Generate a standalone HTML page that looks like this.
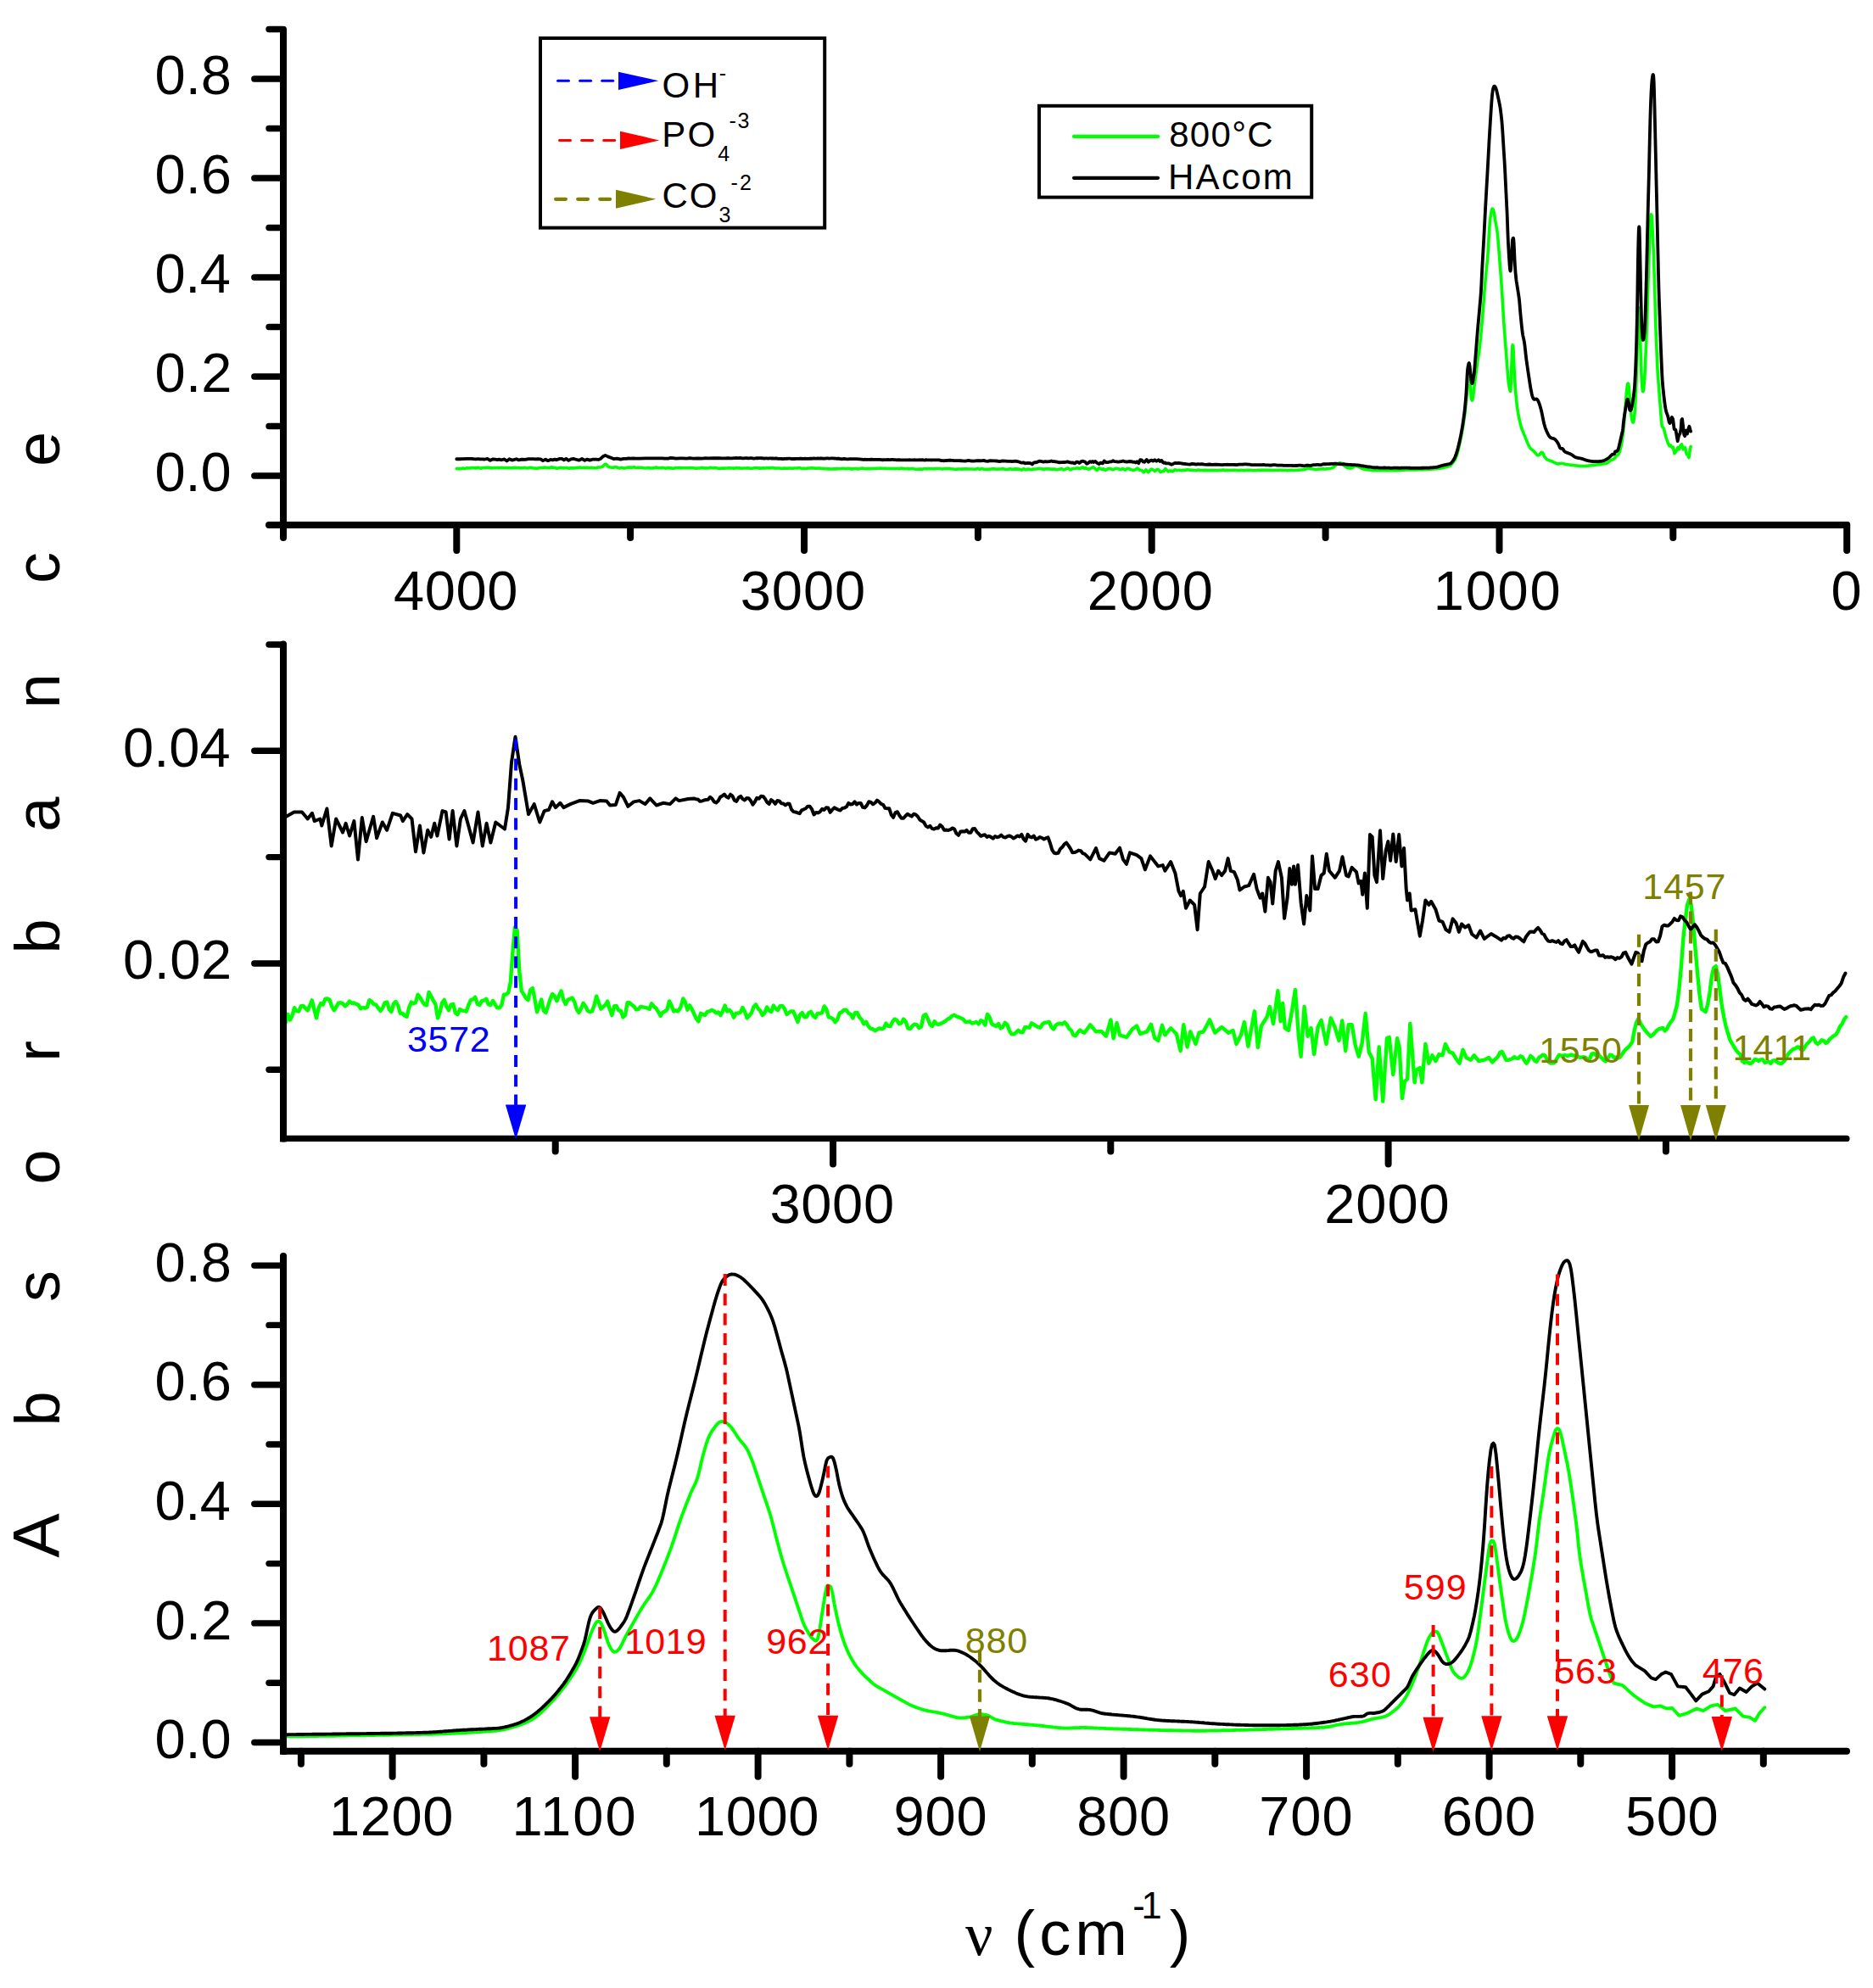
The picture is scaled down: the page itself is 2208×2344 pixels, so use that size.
<!DOCTYPE html>
<html><head><meta charset="utf-8"><title>FTIR absorbance spectra</title>
<style>html,body{margin:0;padding:0;background:#fff}svg{display:block}text{white-space:pre}</style>
</head><body>
<svg width="2208" height="2344" viewBox="0 0 2208 2344" font-family="'Liberation Sans', sans-serif">
<rect width="2208" height="2344" fill="#fff"/>
<path d="M538.28,552.58 L542.41,552.58 L544.04,552.57 L545.67,552.09 L547.29,552.41 L548.92,552.19 L550.55,551.74 L552.18,551.92 L553.80,551.94 L555.43,551.64 L557.06,551.64 L558.69,551.76 L560.31,551.89 L561.94,551.61 L563.57,551.33 L565.19,551.84 L566.82,552.30 L568.45,551.76 L570.08,551.49 L571.70,551.56 L573.33,551.24 L574.96,551.23 L576.59,551.31 L578.21,551.66 L579.84,551.87 L581.47,551.69 L583.10,551.48 L584.72,551.46 L586.35,551.51 L587.98,551.65 L589.61,551.55 L591.23,551.39 L592.86,551.49 L594.49,551.47 L596.12,551.53 L597.74,551.58 L599.37,551.78 L601.00,551.72 L602.63,551.76 L604.25,551.71 L605.88,551.32 L607.51,551.39 L609.13,551.54 L610.76,551.57 L612.39,551.75 L614.02,551.91 L615.64,551.75 L617.27,551.47 L618.90,551.42 L620.53,551.83 L622.15,551.96 L623.78,551.51 L625.41,551.40 L627.04,551.61 L628.66,552.04 L630.29,552.05 L631.92,552.17 L633.55,552.23 L635.17,551.73 L636.80,551.43 L638.43,551.50 L640.06,551.45 L641.68,551.01 L643.31,551.17 L644.94,551.39 L646.56,551.56 L648.19,551.60 L649.82,550.88 L651.45,551.10 L653.07,551.34 L654.70,551.54 L656.33,552.31 L657.96,551.98 L659.58,551.46 L661.21,551.30 L662.84,551.67 L664.47,551.87 L666.09,551.57 L667.72,551.53 L669.35,552.02 L670.98,552.11 L672.60,551.83 L674.23,551.88 L675.86,551.91 L677.49,551.94 L679.11,551.58 L680.74,551.31 L682.37,551.27 L684.00,551.15 L685.62,551.53 L687.25,551.58 L688.88,551.36 L690.50,551.33 L692.13,551.25 L693.76,551.54 L695.39,551.58 L697.01,551.35 L698.64,551.54 L700.27,551.75 L701.90,551.74 L703.52,551.59 L705.15,551.01 L706.78,551.00 L708.41,550.90 L710.03,550.34 L711.66,548.67 L713.29,547.30 L714.92,547.48 L716.54,549.71 L718.17,550.82 L719.80,551.00 L721.43,551.21 L723.05,551.31 L724.68,550.76 L726.31,550.65 L727.94,551.25 L729.56,551.97 L731.19,551.66 L732.82,551.28 L734.44,551.89 L736.07,552.01 L737.70,551.65 L739.33,551.25 L740.95,550.98 L742.58,551.10 L744.21,551.37 L745.84,551.07 L747.46,550.81 L749.09,551.30 L750.72,551.54 L752.35,551.29 L753.97,551.25 L755.60,551.19 L757.23,551.40 L758.86,551.83 L760.48,552.00 L762.11,551.78 L763.74,551.48 L765.37,551.65 L766.99,551.90 L768.62,551.96 L770.25,551.92 L771.87,551.58 L773.50,551.10 L775.13,551.45 L776.76,551.80 L778.38,551.68 L780.01,551.59 L781.64,551.38 L783.27,551.81 L784.89,552.14 L786.52,551.66 L788.15,551.63 L789.78,551.88 L791.40,551.90 L793.03,552.26 L794.66,552.14 L796.29,551.46 L797.91,551.46 L799.54,551.57 L801.17,551.66 L802.80,551.84 L804.42,551.81 L806.05,551.68 L807.68,551.70 L809.31,551.72 L810.93,551.76 L812.56,551.81 L814.19,551.51 L815.81,551.67 L817.44,551.76 L819.07,551.95 L820.70,552.18 L822.32,552.00 L823.95,551.94 L825.58,551.84 L827.21,551.37 L828.83,551.62 L830.46,551.93 L832.09,551.89 L833.72,551.93 L835.72,551.69 L837.35,551.24 L838.97,551.42 L840.60,551.85 L842.23,551.61 L843.86,551.80 L845.48,552.07 L847.11,552.34 L848.74,552.49 L850.37,552.04 L851.99,552.11 L853.62,552.14 L855.25,551.96 L856.88,551.93 L858.50,551.86 L860.13,551.91 L861.76,552.02 L863.39,551.98 L865.01,552.14 L866.64,551.92 L868.27,551.61 L869.89,551.94 L871.52,551.86 L873.15,551.98 L874.78,552.27 L876.40,552.04 L878.03,552.03 L879.66,551.99 L881.29,551.73 L882.91,551.95 L884.54,552.30 L886.17,552.18 L887.80,552.03 L889.42,551.69 L891.05,551.56 L892.68,551.77 L894.31,551.91 L895.93,552.15 L897.56,552.02 L899.19,551.70 L900.82,551.89 L902.44,551.96 L904.07,551.62 L905.70,551.79 L907.32,551.87 L908.95,551.64 L910.58,551.63 L912.21,551.78 L913.83,552.09 L915.46,552.01 L917.09,551.93 L918.72,551.93 L920.34,552.23 L921.97,552.52 L923.60,552.13 L925.23,552.01 L926.85,552.24 L928.48,552.24 L930.11,552.02 L931.74,551.96 L933.36,552.18 L934.99,552.28 L936.62,552.05 L938.25,552.05 L939.87,552.02 L941.50,551.65 L943.13,551.82 L944.76,552.25 L946.38,552.28 L948.01,552.35 L949.64,552.53 L951.26,552.37 L952.89,552.03 L954.52,551.97 L956.15,551.85 L957.77,551.85 L959.40,552.04 L961.03,552.10 L962.66,552.31 L964.28,552.02 L965.91,552.00 L967.54,552.26 L969.17,552.39 L970.79,552.63 L972.42,552.51 L974.05,552.75 L975.68,552.88 L977.30,552.90 L978.93,553.00 L980.56,552.94 L982.19,552.86 L983.81,552.90 L985.44,552.86 L987.07,552.60 L988.70,552.74 L990.32,552.76 L991.95,552.49 L993.58,552.36 L995.20,552.43 L996.83,552.62 L998.46,552.58 L1000.09,552.36 L1001.71,552.51 L1003.34,552.87 L1004.97,552.89 L1006.60,552.74 L1008.22,552.64 L1009.85,552.67 L1011.48,552.85 L1013.11,552.77 L1014.73,552.19 L1016.36,552.11 L1017.99,552.35 L1019.62,552.66 L1021.24,552.75 L1022.87,552.49 L1024.50,552.63 L1026.13,552.65 L1027.75,552.60 L1029.38,552.54 L1031.01,552.47 L1032.63,552.36 L1034.26,552.30 L1035.89,552.18 L1037.52,552.13 L1039.14,552.21 L1040.77,552.25 L1042.40,552.30 L1044.03,552.37 L1045.65,552.52 L1047.28,552.52 L1048.91,552.49 L1050.54,552.59 L1052.16,552.56 L1053.79,552.52 L1055.42,552.63 L1057.05,552.43 L1058.67,552.50 L1060.30,552.69 L1061.93,552.10 L1063.56,552.26 L1065.18,552.63 L1066.81,552.70 L1068.44,552.75 L1070.07,552.62 L1071.69,552.87 L1073.32,552.79 L1074.95,552.56 L1076.57,552.66 L1078.20,553.00 L1079.83,553.18 L1081.46,553.19 L1083.08,553.10 L1084.71,552.98 L1086.34,553.08 L1087.97,553.10 L1089.59,552.81 L1091.22,552.82 L1092.85,552.83 L1094.48,552.58 L1096.10,552.65 L1097.73,552.73 L1099.36,552.81 L1100.99,552.83 L1102.61,552.63 L1104.24,552.55 L1105.87,552.54 L1107.50,552.52 L1109.12,552.79 L1110.75,552.92 L1112.38,552.70 L1114.01,552.62 L1115.63,552.61 L1117.26,552.64 L1118.89,552.53 L1120.51,552.67 L1122.14,552.88 L1123.77,552.98 L1125.40,553.25 L1127.02,553.28 L1128.65,553.09 L1130.28,552.96 L1131.91,553.06 L1133.53,553.11 L1137.85,552.67 L1142.05,553.05 L1146.24,553.05 L1149.56,553.30 L1152.94,552.40 L1154.94,553.42 L1157.44,552.58 L1159.57,553.23 L1164.58,553.36 L1168.77,552.92 L1172.15,552.73 L1174.66,553.17 L1179.66,553.05 L1182.67,552.65 L1185.49,553.42 L1187.99,553.55 L1190.87,552.70 L1193.00,553.23 L1197.19,552.86 L1201.38,553.17 L1204.39,554.11 L1206.70,552.67 L1209.40,553.90 L1211.71,553.05 L1215.59,553.73 L1218.10,553.11 L1221.41,553.05 L1225.92,552.40 L1229.80,553.11 L1234.81,552.80 L1239.82,553.11 L1243.13,552.99 L1245.64,553.73 L1249.02,553.23 L1251.52,552.52 L1254.34,553.86 L1259.03,551.93 L1261.54,553.92 L1264.04,552.73 L1268.23,552.24 L1270.24,551.68 L1272.86,552.61 L1276.24,550.81 L1278.25,552.49 L1279.88,551.49 L1281.57,552.86 L1284.07,552.99 L1286.57,551.93 L1289.08,550.74 L1291.58,553.30 L1293.27,554.42 L1295.77,551.68 L1298.28,553.30 L1300.78,552.86 L1302.97,554.29 L1305.79,552.80 L1308.29,552.43 L1311.98,553.73 L1315.30,552.30 L1318.31,552.80 L1321.37,553.55 L1323.69,552.45 L1326.19,554.11 L1328.38,552.67 L1330.89,552.67 L1333.39,553.79 L1335.90,554.42 L1338.40,553.67 L1340.90,552.05 L1343.41,554.17 L1345.91,554.54 L1348.41,556.79 L1350.92,553.90 L1353.73,556.88 L1356.74,553.42 L1358.43,553.36 L1361.31,555.41 L1364.31,553.42 L1365.94,553.92 L1367.94,556.73 L1369.82,555.79 L1371.82,555.67 L1373.83,552.61 L1375.95,554.67 L1377.14,555.85 L1378.46,555.17 L1381.02,555.04 L1382.65,555.85 L1385.16,553.73 L1387.66,554.79 L1390.16,554.35 L1392.67,554.67 L1395.17,554.29 L1397.74,554.35 L1399.86,553.73 L1402.74,554.17 L1405.25,554.23 L1407.75,554.54 L1410.26,554.79 L1412.76,554.05 L1415.26,554.48 L1418.58,554.61 L1421.08,554.35 L1424.46,554.67 L1428.59,554.61 L1431.97,554.48 L1434.48,554.73 L1438.67,554.42 L1440.17,554.19 L1441.68,554.15 L1443.18,554.37 L1444.68,554.61 L1446.18,554.62 L1447.69,554.58 L1449.19,554.54 L1450.69,554.45 L1452.19,554.51 L1453.69,554.52 L1455.20,554.40 L1456.70,554.45 L1458.20,554.64 L1459.70,554.80 L1461.21,554.62 L1462.71,554.38 L1464.21,554.48 L1465.71,554.64 L1467.21,554.71 L1468.72,554.49 L1470.22,554.41 L1471.72,554.32 L1473.22,554.35 L1474.73,554.55 L1476.23,554.73 L1477.73,554.79 L1479.23,554.77 L1480.73,554.74 L1482.24,554.51 L1483.74,554.34 L1485.24,554.37 L1486.74,554.37 L1488.25,554.34 L1489.75,554.38 L1491.25,554.36 L1492.75,554.32 L1494.25,554.37 L1495.76,554.36 L1497.26,554.40 L1498.76,554.46 L1500.26,554.46 L1501.77,554.45 L1503.27,554.47 L1504.77,554.57 L1506.27,554.57 L1507.77,554.28 L1509.28,554.25 L1510.78,554.34 L1512.28,554.25 L1513.78,554.42 L1515.29,554.50 L1516.79,554.62 L1518.29,554.68 L1519.79,554.51 L1521.29,554.33 L1522.80,554.34 L1524.30,554.48 L1525.80,554.47 L1527.30,554.50 L1528.81,554.45 L1530.31,554.28 L1531.81,554.12 L1533.31,554.00 L1534.81,553.91 L1536.32,553.78 L1537.82,553.60 L1539.32,552.98 L1540.82,552.54 L1542.33,552.34 L1543.83,552.60 L1545.33,552.78 L1546.83,552.94 L1548.33,553.07 L1549.84,553.19 L1551.34,553.32 L1552.84,553.24 L1554.34,553.11 L1555.85,552.99 L1557.35,552.91 L1558.85,552.87 L1560.35,552.84 L1561.85,553.00 L1563.36,552.89 L1564.86,552.67 L1566.36,552.50 L1567.86,552.35 L1569.36,551.99 L1570.87,551.55 L1572.37,550.65 L1573.87,549.46 L1575.37,547.94 L1576.88,546.89 L1578.38,546.06 L1579.88,545.75 L1581.38,546.13 L1582.88,547.27 L1584.39,548.56 L1585.89,549.84 L1587.39,550.99 L1588.89,551.80 L1590.40,551.87 L1591.90,551.96 L1593.40,551.56 L1594.90,550.91 L1596.40,550.01 L1597.91,549.54 L1599.41,549.45 L1600.91,549.91 L1602.41,550.78 L1603.92,551.66 L1605.42,552.27 L1606.92,552.78 L1608.42,553.15 L1609.92,553.52 L1611.43,553.71 L1612.93,553.90 L1614.43,554.08 L1615.93,554.21 L1617.44,554.31 L1618.94,554.67 L1620.44,554.76 L1621.94,554.71 L1623.44,554.77 L1624.95,554.81 L1626.45,554.73 L1627.95,554.58 L1629.45,554.59 L1630.96,554.66 L1632.46,554.59 L1633.96,554.58 L1635.46,554.75 L1636.96,554.73 L1638.47,554.71 L1639.97,554.79 L1641.47,554.65 L1642.97,554.63 L1644.48,554.72 L1645.98,554.78 L1647.48,554.82 L1648.98,554.73 L1650.48,554.62 L1651.99,554.37 L1653.49,554.22 L1654.99,554.12 L1656.49,554.02 L1658.00,553.98 L1659.50,553.90 L1661.07,553.95 L1661.36,553.96 L1661.64,553.96 L1661.93,553.96 L1662.21,553.96 L1662.50,553.96 L1662.78,553.96 L1663.07,553.96 L1663.35,553.96 L1663.64,553.96 L1663.93,553.95 L1664.21,553.95 L1664.50,553.95 L1664.78,553.95 L1665.07,553.95 L1665.35,553.94 L1665.64,553.94 L1665.92,553.94 L1666.21,553.93 L1666.49,553.93 L1666.78,553.92 L1667.06,553.92 L1667.35,553.91 L1667.63,553.91 L1667.92,553.90 L1668.20,553.90 L1668.49,553.89 L1668.77,553.89 L1669.06,553.88 L1669.34,553.87 L1669.63,553.87 L1669.91,553.86 L1670.20,553.85 L1670.48,553.85 L1670.77,553.84 L1671.06,553.83 L1671.34,553.82 L1671.63,553.82 L1671.91,553.81 L1672.20,553.80 L1672.48,553.79 L1672.77,553.78 L1673.05,553.77 L1673.34,553.76 L1673.62,553.76 L1673.91,553.75 L1674.19,553.74 L1674.48,553.73 L1674.76,553.72 L1675.05,553.71 L1675.33,553.70 L1675.62,553.69 L1675.90,553.68 L1676.19,553.67 L1676.47,553.66 L1676.76,553.65 L1677.04,553.64 L1677.33,553.63 L1677.61,553.62 L1677.90,553.61 L1678.18,553.60 L1678.47,553.59 L1678.76,553.58 L1679.04,553.56 L1679.33,553.55 L1679.61,553.54 L1679.90,553.53 L1680.18,553.51 L1680.47,553.50 L1680.75,553.48 L1681.04,553.47 L1681.32,553.46 L1681.61,553.44 L1681.89,553.43 L1682.18,553.41 L1682.46,553.40 L1682.75,553.38 L1683.03,553.36 L1683.32,553.35 L1683.60,553.33 L1683.89,553.31 L1684.17,553.30 L1684.46,553.28 L1684.74,553.26 L1685.03,553.25 L1685.31,553.23 L1685.60,553.21 L1685.89,553.19 L1686.17,553.18 L1686.46,553.16 L1686.74,553.14 L1687.03,553.12 L1687.31,553.10 L1687.60,553.08 L1687.88,553.07 L1688.17,553.05 L1688.45,553.03 L1688.74,553.01 L1689.02,552.99 L1689.31,552.97 L1689.59,552.95 L1689.88,552.93 L1690.16,552.92 L1690.45,552.90 L1690.73,552.88 L1691.02,552.86 L1691.30,552.84 L1691.59,552.82 L1691.87,552.80 L1692.16,552.78 L1692.44,552.76 L1692.73,552.74 L1693.02,552.72 L1693.30,552.70 L1693.59,552.68 L1693.87,552.65 L1694.16,552.62 L1694.44,552.60 L1694.73,552.56 L1695.01,552.53 L1695.30,552.50 L1695.58,552.46 L1695.87,552.43 L1696.15,552.39 L1696.44,552.35 L1696.72,552.31 L1697.01,552.26 L1697.29,552.22 L1697.58,552.17 L1697.86,552.12 L1698.15,552.08 L1698.43,552.03 L1698.72,551.97 L1699.00,551.92 L1699.29,551.87 L1699.57,551.81 L1699.86,551.75 L1700.14,551.69 L1700.43,551.63 L1700.72,551.57 L1701.00,551.51 L1701.29,551.44 L1701.57,551.38 L1701.86,551.31 L1702.14,551.24 L1702.43,551.17 L1702.71,551.10 L1703.00,551.03 L1703.28,550.96 L1703.57,550.89 L1703.85,550.81 L1704.14,550.73 L1704.42,550.66 L1704.71,550.58 L1704.99,550.50 L1705.28,550.42 L1705.56,550.34 L1705.85,550.25 L1706.13,550.17 L1706.42,550.09 L1706.70,550.00 L1706.99,549.91 L1707.27,549.82 L1707.56,549.74 L1707.85,549.65 L1708.13,549.55 L1708.42,549.46 L1708.70,549.37 L1708.99,549.27 L1709.27,549.14 L1709.56,548.97 L1709.84,548.77 L1710.13,548.53 L1710.41,548.26 L1710.70,547.97 L1710.98,547.66 L1711.27,547.33 L1711.55,546.99 L1711.84,546.64 L1712.12,546.28 L1712.41,545.92 L1712.69,545.56 L1712.98,545.21 L1713.26,544.85 L1713.55,544.47 L1713.83,544.08 L1714.12,543.66 L1714.40,543.22 L1714.69,542.75 L1714.98,542.26 L1715.26,541.74 L1715.55,541.18 L1715.83,540.59 L1716.12,539.96 L1716.40,539.30 L1716.69,538.59 L1716.97,537.84 L1717.26,537.03 L1717.54,536.17 L1717.83,535.24 L1718.11,534.26 L1718.40,533.23 L1718.68,532.15 L1718.97,531.03 L1719.25,529.87 L1719.54,528.67 L1719.82,527.44 L1720.11,526.18 L1720.39,524.89 L1720.68,523.59 L1720.96,522.27 L1721.25,520.93 L1721.53,519.56 L1721.82,518.16 L1722.10,516.73 L1722.39,515.28 L1722.68,513.80 L1722.96,512.30 L1723.25,510.77 L1723.53,509.22 L1723.82,507.64 L1724.10,506.00 L1724.39,504.32 L1724.67,502.59 L1724.96,500.82 L1725.24,499.00 L1725.53,497.15 L1725.81,495.26 L1726.10,493.33 L1726.38,491.37 L1726.67,489.29 L1726.95,487.05 L1727.24,484.67 L1727.52,482.13 L1727.81,479.46 L1728.09,476.65 L1728.38,473.71 L1728.66,470.54 L1728.95,467.12 L1729.23,463.57 L1729.52,460.01 L1729.81,456.55 L1730.09,453.31 L1730.38,450.34 L1730.66,447.59 L1730.95,445.03 L1731.23,442.95 L1731.52,441.96 L1731.80,441.96 L1732.09,442.96 L1732.37,444.83 L1732.66,447.40 L1732.94,450.68 L1733.23,454.52 L1733.51,458.51 L1733.80,462.26 L1734.08,465.39 L1734.37,467.95 L1734.65,470.01 L1734.94,471.43 L1735.22,472.08 L1735.51,472.01 L1735.79,471.50 L1736.08,470.53 L1736.36,469.07 L1736.65,467.08 L1736.94,464.67 L1737.22,462.14 L1737.51,459.56 L1737.79,457.05 L1738.08,454.67 L1738.36,452.44 L1738.65,450.21 L1738.93,447.99 L1739.22,445.78 L1739.50,443.58 L1739.79,441.38 L1740.07,439.20 L1740.36,437.04 L1740.64,434.88 L1740.93,432.74 L1741.21,430.62 L1741.50,428.53 L1741.78,426.59 L1742.07,424.77 L1742.35,423.02 L1742.64,421.29 L1742.92,419.54 L1743.21,417.72 L1743.49,415.78 L1743.78,413.67 L1744.07,411.37 L1744.35,408.89 L1744.64,406.26 L1744.92,403.51 L1745.21,400.65 L1745.49,397.70 L1745.78,394.69 L1746.06,391.63 L1746.35,388.54 L1746.63,385.42 L1746.92,382.25 L1747.20,379.04 L1747.49,375.76 L1747.77,372.42 L1748.06,369.00 L1748.34,365.47 L1748.63,361.77 L1748.91,357.95 L1749.20,354.08 L1749.48,350.21 L1749.77,346.42 L1750.05,342.77 L1750.34,339.30 L1750.62,335.94 L1750.91,332.65 L1751.19,329.44 L1751.48,326.26 L1751.77,323.11 L1752.05,319.97 L1752.34,316.86 L1752.62,314.06 L1752.91,311.47 L1753.19,308.89 L1753.48,306.15 L1753.76,303.03 L1754.05,299.13 L1754.33,294.13 L1754.62,288.64 L1754.90,283.29 L1755.19,278.59 L1755.47,274.06 L1755.76,269.72 L1756.04,265.76 L1756.33,262.37 L1756.61,259.58 L1756.90,257.25 L1757.18,255.25 L1757.47,253.42 L1757.75,251.66 L1758.04,250.02 L1758.32,248.57 L1758.61,247.40 L1758.90,246.57 L1759.18,246.13 L1759.47,246.04 L1759.75,246.28 L1760.04,246.80 L1760.32,247.46 L1760.61,248.25 L1760.89,249.20 L1761.18,250.38 L1761.46,251.81 L1761.75,253.50 L1762.03,255.33 L1762.32,257.24 L1762.60,259.17 L1762.89,261.07 L1763.17,262.88 L1763.46,264.52 L1763.74,265.99 L1764.03,267.40 L1764.31,268.85 L1764.60,270.47 L1764.88,272.36 L1765.17,274.60 L1765.45,277.16 L1765.74,280.02 L1766.03,283.14 L1766.31,286.49 L1766.60,290.02 L1766.88,293.71 L1767.17,297.46 L1767.45,301.22 L1767.74,304.99 L1768.02,308.76 L1768.31,312.51 L1768.59,316.25 L1768.88,319.95 L1769.16,323.62 L1769.45,327.30 L1769.73,331.02 L1770.02,334.79 L1770.30,338.80 L1770.59,343.32 L1770.87,348.19 L1771.16,353.19 L1771.44,358.14 L1771.73,362.83 L1772.01,367.42 L1772.30,372.05 L1772.58,376.64 L1772.87,381.07 L1773.15,385.28 L1773.44,389.15 L1773.73,392.89 L1774.01,396.62 L1774.30,400.35 L1774.58,404.09 L1774.87,407.82 L1775.15,411.55 L1775.44,415.29 L1775.72,419.02 L1776.01,422.75 L1776.29,426.49 L1776.58,430.22 L1776.86,433.95 L1777.15,437.68 L1777.43,441.42 L1777.72,444.85 L1778.00,447.61 L1778.29,449.93 L1778.57,452.02 L1778.86,454.11 L1779.14,456.11 L1779.43,457.70 L1779.71,458.99 L1780.00,460.13 L1780.28,461.13 L1780.57,461.17 L1780.86,459.13 L1781.14,453.94 L1781.43,446.21 L1781.71,437.78 L1782.00,429.71 L1782.28,421.90 L1782.57,414.44 L1782.85,408.27 L1783.14,406.84 L1783.42,407.36 L1783.71,407.94 L1783.99,411.24 L1784.28,417.64 L1784.56,424.78 L1784.85,431.07 L1785.13,436.87 L1785.42,442.42 L1785.70,447.44 L1785.99,452.05 L1786.27,456.32 L1786.56,460.22 L1786.84,463.75 L1787.13,467.03 L1787.41,470.08 L1787.70,472.88 L1787.99,475.39 L1788.27,477.69 L1788.56,479.92 L1788.84,482.05 L1789.13,484.03 L1789.41,485.85 L1789.70,487.47 L1789.98,488.99 L1790.27,490.46 L1790.55,491.88 L1790.84,493.25 L1791.12,494.57 L1791.41,495.82 L1791.69,497.01 L1791.98,498.17 L1792.26,499.34 L1792.55,500.50 L1792.83,501.64 L1793.12,502.72 L1793.40,503.74 L1793.69,504.68 L1793.97,505.51 L1794.26,506.24 L1794.54,506.95 L1794.83,507.66 L1795.11,508.36 L1795.40,509.07 L1795.69,509.77 L1795.97,510.48 L1796.26,511.18 L1796.54,511.88 L1796.83,512.59 L1797.11,513.29 L1797.40,513.99 L1797.68,514.69 L1797.97,515.40 L1798.25,516.10 L1798.54,516.80 L1798.82,517.50 L1799.11,518.20 L1799.39,518.90 L1799.68,519.60 L1799.96,520.30 L1800.25,521.00 L1800.53,521.70 L1800.82,522.39 L1801.10,523.05 L1801.39,523.68 L1801.67,524.28 L1801.96,524.86 L1802.24,525.40 L1802.53,525.92 L1802.82,526.41 L1803.10,526.88 L1803.39,527.33 L1803.67,527.74 L1803.96,528.14 L1804.24,528.51 L1804.53,528.87 L1804.81,529.20 L1805.10,529.50 L1805.38,529.78 L1805.67,530.04 L1805.95,530.28 L1806.24,530.51 L1806.52,530.73 L1806.81,530.95 L1807.09,531.16 L1807.38,531.38 L1807.66,531.60 L1807.95,531.83 L1808.23,532.08 L1808.52,532.34 L1808.80,532.62 L1809.09,532.93 L1809.37,533.26 L1809.66,533.62 L1809.95,533.99 L1810.23,534.37 L1810.52,534.75 L1810.80,535.12 L1811.09,535.48 L1811.37,535.82 L1811.66,536.13 L1811.94,536.42 L1812.23,536.64 L1812.51,536.79 L1812.80,536.87 L1813.08,536.88 L1813.37,536.84 L1813.65,536.76 L1813.94,536.63 L1814.22,536.49 L1814.51,536.32 L1814.79,536.14 L1815.08,535.91 L1815.36,535.54 L1815.65,535.11 L1815.93,534.63 L1816.22,534.18 L1816.50,533.79 L1816.79,533.51 L1817.07,533.36 L1817.36,533.30 L1817.65,533.32 L1817.93,533.43 L1818.22,533.62 L1818.50,533.89 L1818.79,534.24 L1819.07,534.69 L1819.36,535.28 L1819.64,535.98 L1819.93,536.72 L1820.21,537.44 L1820.50,538.09 L1820.78,538.60 L1821.07,538.96 L1821.35,539.29 L1821.64,539.61 L1821.92,539.93 L1822.21,540.23 L1822.49,540.53 L1822.78,540.81 L1823.06,541.07 L1823.35,541.32 L1823.63,541.55 L1823.92,541.76 L1824.20,541.95 L1824.49,542.12 L1824.78,542.27 L1825.06,542.39 L1825.35,542.50 L1825.63,542.61 L1825.92,542.71 L1826.20,542.81 L1826.49,542.91 L1826.77,543.01 L1827.06,543.10 L1827.34,543.20 L1827.63,543.30 L1827.91,543.39 L1828.20,543.49 L1828.48,543.59 L1828.77,543.69 L1829.05,543.79 L1829.34,543.90 L1829.62,544.01 L1829.91,544.13 L1830.19,544.25 L1830.48,544.38 L1830.76,544.52 L1831.05,544.66 L1831.33,544.80 L1831.62,544.95 L1831.91,545.10 L1832.19,545.25 L1832.48,545.40 L1832.76,545.55 L1833.05,545.70 L1833.33,545.84 L1833.62,545.98 L1833.90,546.12 L1834.19,546.25 L1834.47,546.38 L1834.76,546.49 L1835.04,546.60 L1835.33,546.70 L1835.61,546.79 L1835.90,546.86 L1836.18,546.90 L1836.47,546.92 L1836.75,546.92 L1837.04,546.90 L1837.32,546.87 L1837.61,546.82 L1837.89,546.77 L1838.18,546.71 L1838.46,546.65 L1838.75,546.59 L1839.03,546.54 L1839.32,546.49 L1839.61,546.44 L1839.89,546.41 L1840.18,546.39 L1840.46,546.39 L1840.75,546.41 L1841.03,546.45 L1841.32,546.50 L1841.60,546.55 L1841.89,546.60 L1842.17,546.65 L1842.46,546.71 L1842.74,546.76 L1843.03,546.82 L1843.31,546.87 L1843.60,546.93 L1843.88,546.99 L1844.17,547.04 L1844.45,547.10 L1844.74,547.16 L1845.02,547.21 L1845.31,547.27 L1845.59,547.32 L1845.88,547.37 L1846.16,547.42 L1846.45,547.47 L1846.74,547.52 L1847.02,547.56 L1847.31,547.60 L1847.59,547.65 L1847.88,547.69 L1848.16,547.73 L1848.45,547.77 L1848.73,547.81 L1849.02,547.85 L1849.30,547.89 L1849.59,547.93 L1849.87,547.97 L1850.16,548.01 L1850.44,548.05 L1850.73,548.09 L1851.01,548.13 L1851.30,548.17 L1851.58,548.21 L1851.87,548.24 L1852.15,548.28 L1852.44,548.32 L1852.72,548.36 L1853.01,548.40 L1853.29,548.43 L1853.58,548.47 L1853.87,548.51 L1854.15,548.54 L1854.44,548.58 L1854.72,548.61 L1855.01,548.65 L1855.29,548.68 L1855.58,548.72 L1855.86,548.75 L1856.15,548.79 L1856.43,548.82 L1856.72,548.85 L1857.00,548.88 L1857.29,548.91 L1857.57,548.95 L1857.86,548.98 L1858.14,549.01 L1858.43,549.04 L1858.71,549.06 L1859.00,549.09 L1859.28,549.12 L1859.57,549.15 L1859.85,549.17 L1860.14,549.20 L1860.42,549.22 L1860.71,549.25 L1860.99,549.27 L1861.28,549.29 L1861.57,549.32 L1861.85,549.34 L1862.14,549.36 L1862.42,549.37 L1862.71,549.39 L1862.99,549.41 L1863.28,549.42 L1863.56,549.44 L1863.85,549.45 L1864.13,549.46 L1864.42,549.47 L1864.70,549.48 L1864.99,549.49 L1865.27,549.50 L1865.56,549.50 L1865.84,549.51 L1866.13,549.51 L1866.41,549.51 L1866.70,549.51 L1866.98,549.50 L1867.27,549.50 L1867.55,549.49 L1867.84,549.48 L1868.12,549.47 L1868.41,549.46 L1868.70,549.45 L1868.98,549.43 L1869.27,549.42 L1869.55,549.40 L1869.84,549.37 L1870.12,549.35 L1870.41,549.32 L1870.69,549.30 L1870.98,549.27 L1871.26,549.25 L1871.55,549.22 L1871.83,549.19 L1872.12,549.16 L1872.40,549.13 L1872.69,549.11 L1872.97,549.08 L1873.26,549.05 L1873.54,549.01 L1873.83,548.98 L1874.11,548.95 L1874.40,548.92 L1874.68,548.89 L1874.97,548.86 L1875.25,548.82 L1875.54,548.79 L1875.83,548.76 L1876.11,548.72 L1876.40,548.69 L1876.68,548.65 L1876.97,548.62 L1877.25,548.58 L1877.54,548.54 L1877.82,548.51 L1878.11,548.47 L1878.39,548.43 L1878.68,548.40 L1878.96,548.36 L1879.25,548.32 L1879.53,548.29 L1879.82,548.25 L1880.10,548.21 L1880.39,548.18 L1880.67,548.14 L1880.96,548.10 L1881.24,548.06 L1881.53,548.03 L1881.81,547.99 L1882.10,547.95 L1882.38,547.91 L1882.67,547.88 L1882.95,547.84 L1883.24,547.80 L1883.53,547.76 L1883.81,547.72 L1884.10,547.69 L1884.38,547.65 L1884.67,547.61 L1884.95,547.57 L1885.24,547.54 L1885.52,547.50 L1885.81,547.46 L1886.09,547.42 L1886.38,547.38 L1886.66,547.35 L1886.95,547.31 L1887.23,547.27 L1887.52,547.23 L1887.80,547.20 L1888.09,547.16 L1888.37,547.12 L1888.66,547.08 L1888.94,547.05 L1889.23,547.01 L1889.51,546.97 L1889.80,546.93 L1890.08,546.89 L1890.37,546.85 L1890.66,546.81 L1890.94,546.77 L1891.23,546.73 L1891.51,546.69 L1891.80,546.64 L1892.08,546.60 L1892.37,546.55 L1892.65,546.51 L1892.94,546.46 L1893.22,546.41 L1893.51,546.36 L1893.79,546.31 L1894.08,546.25 L1894.36,546.16 L1894.65,546.02 L1894.93,545.84 L1895.22,545.64 L1895.50,545.41 L1895.79,545.16 L1896.07,544.89 L1896.36,544.62 L1896.64,544.35 L1896.93,544.08 L1897.21,543.82 L1897.50,543.58 L1897.79,543.36 L1898.07,543.17 L1898.36,543.00 L1898.64,542.85 L1898.93,542.72 L1899.21,542.59 L1899.50,542.48 L1899.78,542.37 L1900.07,542.26 L1900.35,542.16 L1900.64,542.05 L1900.92,541.93 L1901.21,541.80 L1901.49,541.67 L1901.78,541.51 L1902.06,541.34 L1902.35,541.15 L1902.63,540.93 L1902.92,540.67 L1903.20,540.38 L1903.49,540.05 L1903.77,539.70 L1904.06,539.34 L1904.34,538.98 L1904.63,538.63 L1904.91,538.29 L1905.20,537.97 L1905.49,537.69 L1905.77,537.45 L1906.06,537.22 L1906.34,537.00 L1906.63,536.79 L1906.91,536.57 L1907.20,536.34 L1907.48,536.08 L1907.77,535.78 L1908.05,535.37 L1908.34,534.82 L1908.62,534.16 L1908.91,533.41 L1909.19,532.58 L1909.48,531.68 L1909.76,530.75 L1910.05,529.79 L1910.33,528.82 L1910.62,527.74 L1910.90,526.55 L1911.19,525.23 L1911.47,523.78 L1911.76,522.20 L1912.04,520.48 L1912.33,518.64 L1912.62,516.63 L1912.90,514.45 L1913.19,512.11 L1913.47,509.59 L1913.76,506.91 L1914.04,504.04 L1914.33,501.00 L1914.61,497.83 L1914.90,494.56 L1915.18,491.21 L1915.47,487.79 L1915.75,484.31 L1916.04,480.73 L1916.32,476.95 L1916.61,473.10 L1916.89,469.25 L1917.18,465.54 L1917.46,462.09 L1917.75,459.26 L1918.03,456.91 L1918.32,454.87 L1918.60,453.25 L1918.89,452.34 L1919.17,452.04 L1919.46,452.15 L1919.75,452.97 L1920.03,454.92 L1920.32,458.04 L1920.60,461.29 L1920.89,464.57 L1921.17,467.87 L1921.46,471.18 L1921.74,474.53 L1922.03,477.89 L1922.31,481.26 L1922.60,484.60 L1922.88,487.89 L1923.17,490.68 L1923.45,492.64 L1923.74,494.05 L1924.02,495.21 L1924.31,496.38 L1924.59,497.29 L1924.88,497.86 L1925.16,498.09 L1925.45,497.81 L1925.73,496.89 L1926.02,495.45 L1926.30,493.61 L1926.59,491.45 L1926.87,488.71 L1927.16,485.36 L1927.45,481.43 L1927.73,476.95 L1928.02,472.02 L1928.30,466.48 L1928.59,459.98 L1928.87,452.20 L1929.16,442.98 L1929.44,433.35 L1929.73,423.62 L1930.01,413.89 L1930.30,404.28 L1930.58,394.74 L1930.87,385.28 L1931.15,375.93 L1931.44,367.55 L1931.72,363.73 L1932.01,362.95 L1932.29,363.60 L1932.58,366.92 L1932.86,374.60 L1933.15,383.98 L1933.43,393.58 L1933.72,402.94 L1934.00,411.92 L1934.29,420.80 L1934.58,429.47 L1934.86,437.66 L1935.15,444.24 L1935.43,449.41 L1935.72,453.72 L1936.00,457.32 L1936.29,459.87 L1936.57,461.29 L1936.86,461.55 L1937.14,461.02 L1937.43,459.74 L1937.71,457.69 L1938.00,454.85 L1938.28,451.51 L1938.57,447.75 L1938.85,443.39 L1939.14,438.22 L1939.42,432.25 L1939.71,425.95 L1939.99,419.39 L1940.28,412.62 L1940.56,405.68 L1940.85,398.58 L1941.13,391.24 L1941.42,383.54 L1941.71,375.36 L1941.99,365.51 L1942.28,354.42 L1942.56,343.93 L1942.85,335.29 L1943.13,327.23 L1943.42,319.14 L1943.70,310.49 L1943.99,301.20 L1944.27,291.93 L1944.56,283.38 L1944.84,276.34 L1945.13,270.91 L1945.41,266.27 L1945.70,261.71 L1945.98,257.53 L1946.27,254.19 L1946.55,252.91 L1946.84,253.02 L1947.12,254.50 L1947.41,258.56 L1947.69,263.79 L1947.98,269.42 L1948.26,275.30 L1948.55,281.21 L1948.83,287.25 L1949.12,293.77 L1949.41,301.11 L1949.69,309.32 L1949.98,318.00 L1950.26,326.78 L1950.55,335.88 L1950.83,345.34 L1951.12,355.96 L1951.40,368.74 L1951.69,378.86 L1951.97,387.07 L1952.26,394.61 L1952.54,401.67 L1952.83,408.47 L1953.11,415.41 L1953.40,422.49 L1953.68,429.27 L1953.97,435.33 L1954.25,440.21 L1954.54,444.03 L1954.82,447.73 L1955.11,451.40 L1955.39,455.05 L1955.68,458.74 L1955.96,462.48 L1956.25,466.24 L1956.54,470.00 L1956.82,473.77 L1957.11,477.53 L1957.39,481.28 L1957.68,485.04 L1957.96,488.74 L1958.25,492.29 L1958.53,495.64 L1959.27,502.75 L1961.25,504.91 L1963.72,514.73 L1966.21,522.31 L1968.19,525.97 L1969.67,525.13 L1971.16,527.71 L1972.39,527.30 L1973.89,534.62 L1975.62,532.46 L1977.85,527.71 L1979.33,529.88 L1981.06,525.13 L1982.54,523.80 L1984.29,529.88 L1986.52,527.71 L1988.25,535.29 L1989.73,536.37 L1990.97,539.61 L1991.96,532.04 L1993.10,526.63" fill="none" stroke="#00ff00" stroke-width="3.6" stroke-linejoin="round" stroke-linecap="round"/>
<path d="M538.28,541.23 L542.41,541.23 L544.54,541.22 L550.36,540.97 L556.18,540.97 L560.38,541.34 L563.69,541.03 L565.38,541.46 L569.58,541.34 L570.77,541.72 L574.58,540.78 L577.90,542.84 L581.28,541.34 L583.78,541.72 L586.29,542.09 L588.48,541.59 L591.30,542.28 L594.61,541.46 L597.49,543.58 L600.50,541.28 L603.50,542.59 L608.82,541.22 L611.33,542.40 L615.52,541.53 L618.84,541.96 L623.03,541.03 L628.91,541.16 L630.54,541.46 L633.92,541.09 L637.24,541.34 L640.06,543.15 L643.12,541.72 L645.94,543.21 L648.94,541.96 L651.45,542.34 L653.95,541.59 L655.95,542.28 L659.77,540.90 L662.34,540.97 L664.84,542.46 L667.35,540.90 L670.35,542.84 L673.17,541.34 L675.98,540.90 L678.99,541.72 L682.37,542.65 L686.06,540.97 L689.38,542.84 L692.38,541.59 L695.39,542.65 L699.08,541.53 L702.40,541.72 L705.78,541.90 L708.28,540.72 L710.78,538.23 L713.60,536.83 L716.61,538.35 L719.11,539.22 L723.30,541.09 L727.50,540.53 L731.63,541.53 L735.01,540.90 L738.33,540.84 L740.83,540.40 L743.33,540.72 L746.71,540.47 L749.22,540.72 L754.22,540.53 L760.86,540.34 L767.56,540.37 L770.94,540.47 L775.94,540.34 L780.95,540.37 L783.45,540.60 L787.65,540.57 L790.65,539.91 L793.47,540.16 L796.79,540.66 L800.98,540.40 L805.17,540.34 L809.37,540.53 L813.00,540.22 L817.69,540.60 L822.70,540.47 L827.71,540.53 L831.90,540.22 L834.40,540.34 L841.10,540.25 L845.30,540.22 L846.80,540.26 L848.30,540.26 L849.80,540.37 L851.30,540.36 L852.81,540.31 L854.31,540.29 L855.81,540.28 L857.31,540.14 L858.82,540.24 L860.32,540.40 L861.82,540.45 L863.32,540.35 L864.82,540.14 L866.33,540.08 L867.83,539.99 L869.33,540.13 L870.83,540.18 L872.34,540.00 L873.84,540.09 L875.34,540.33 L876.84,540.38 L878.34,540.17 L879.85,540.10 L881.35,540.25 L882.85,540.31 L884.35,540.20 L885.86,540.21 L887.36,540.35 L888.86,540.56 L890.36,540.40 L891.86,540.19 L893.37,540.24 L894.87,540.10 L896.37,540.10 L897.87,540.24 L899.38,540.43 L900.88,540.52 L902.38,540.29 L903.88,540.38 L905.38,540.52 L906.89,540.34 L908.39,540.36 L909.89,540.49 L911.39,540.50 L912.90,540.59 L914.40,540.51 L915.90,540.52 L917.40,540.84 L918.90,540.95 L920.41,540.97 L921.91,541.01 L923.41,541.05 L924.91,540.87 L926.42,540.82 L927.92,540.77 L929.42,540.65 L930.92,540.66 L932.42,540.81 L933.93,541.11 L935.43,540.99 L936.93,541.01 L938.43,540.95 L939.94,540.80 L941.44,540.85 L942.94,540.73 L944.44,540.74 L945.94,540.98 L947.45,540.84 L948.95,540.73 L950.45,540.79 L951.95,540.84 L953.46,540.87 L954.96,540.75 L956.46,540.74 L957.96,540.68 L959.46,540.48 L960.97,540.55 L962.47,540.53 L963.97,540.40 L965.47,540.55 L966.98,540.47 L968.48,540.48 L969.98,540.70 L971.48,540.73 L972.98,540.60 L974.49,540.39 L975.99,540.43 L977.49,540.54 L978.99,540.47 L980.50,540.32 L982.00,540.40 L983.50,540.52 L985.00,540.56 L986.50,540.76 L988.01,540.77 L989.51,540.77 L991.01,541.12 L992.51,541.26 L994.02,541.00 L995.52,540.95 L997.02,541.15 L998.52,541.31 L1000.02,541.31 L1001.53,541.18 L1003.03,541.07 L1004.53,541.15 L1006.03,541.21 L1007.54,541.08 L1009.04,541.11 L1010.54,541.21 L1012.04,541.39 L1013.54,541.46 L1015.05,541.53 L1016.55,541.74 L1018.05,541.81 L1019.55,541.73 L1021.06,541.87 L1022.56,541.91 L1024.06,541.84 L1025.56,541.85 L1027.06,541.67 L1028.57,541.77 L1030.07,541.97 L1031.57,541.95 L1033.07,541.97 L1034.58,541.93 L1036.08,541.85 L1037.58,541.91 L1039.08,542.15 L1040.58,542.25 L1042.09,542.04 L1043.59,542.03 L1045.09,542.05 L1046.59,541.97 L1048.10,542.10 L1049.60,542.10 L1051.10,541.89 L1052.60,541.88 L1054.10,542.06 L1055.61,542.17 L1057.11,542.29 L1058.61,542.24 L1060.11,542.22 L1061.62,542.34 L1063.12,542.29 L1064.62,542.35 L1066.12,542.42 L1067.62,542.30 L1069.13,542.36 L1070.63,542.32 L1072.13,542.24 L1073.63,542.34 L1075.14,542.37 L1076.64,542.31 L1078.14,542.27 L1079.64,542.32 L1081.14,542.41 L1082.65,542.35 L1084.15,542.27 L1085.65,542.32 L1087.15,542.20 L1088.66,542.46 L1090.16,542.56 L1091.66,542.20 L1093.16,542.33 L1094.66,542.37 L1096.17,542.28 L1097.67,542.48 L1099.17,542.42 L1100.67,542.35 L1102.18,542.39 L1103.68,542.46 L1105.18,542.40 L1106.68,542.36 L1108.18,542.67 L1109.69,543.05 L1111.19,543.22 L1112.69,543.25 L1114.19,543.22 L1115.70,543.00 L1117.20,542.89 L1118.70,542.73 L1120.20,542.65 L1121.70,542.81 L1123.21,542.98 L1124.71,543.20 L1126.21,543.19 L1127.71,543.15 L1129.22,543.07 L1130.72,543.10 L1132.22,543.24 L1133.72,543.27 L1137.85,543.58 L1142.05,542.96 L1144.55,543.52 L1147.93,543.64 L1152.06,543.20 L1156.25,543.27 L1159.57,542.93 L1162.08,543.58 L1164.58,543.83 L1167.08,543.20 L1172.09,543.33 L1175.47,543.52 L1178.29,544.14 L1182.11,543.39 L1187.99,543.95 L1191.37,543.89 L1193.00,544.20 L1197.19,543.70 L1200.51,544.33 L1203.07,545.32 L1204.70,545.57 L1206.39,545.32 L1208.39,546.26 L1211.40,545.82 L1214.72,546.07 L1216.91,547.44 L1218.91,545.45 L1220.60,545.26 L1222.23,545.08 L1225.11,543.70 L1228.11,544.20 L1230.11,544.64 L1232.30,544.20 L1234.81,544.45 L1237.31,544.20 L1239.44,543.52 L1241.44,544.20 L1244.01,544.26 L1246.51,544.70 L1248.14,545.26 L1251.52,545.08 L1254.84,545.01 L1258.53,544.39 L1260.72,545.20 L1263.23,545.70 L1264.85,545.45 L1266.86,546.44 L1269.05,544.58 L1270.74,544.82 L1272.36,546.01 L1274.55,544.20 L1276.56,543.70 L1279.06,544.58 L1281.06,546.82 L1283.26,545.70 L1284.95,544.08 L1286.57,544.95 L1287.95,543.95 L1289.08,544.95 L1291.08,543.89 L1293.27,545.95 L1295.46,547.13 L1297.46,545.57 L1299.97,546.38 L1301.66,543.39 L1303.66,545.20 L1305.79,545.20 L1308.29,544.45 L1310.29,544.33 L1312.17,543.27 L1314.18,544.20 L1318.37,544.58 L1321.69,544.20 L1323.88,543.43 L1326.69,544.45 L1328.38,544.52 L1330.89,544.02 L1334.21,544.26 L1335.90,544.89 L1337.59,544.76 L1338.71,545.51 L1340.40,544.33 L1342.22,546.26 L1344.22,542.21 L1345.91,542.33 L1347.60,544.45 L1349.23,544.82 L1351.73,541.99 L1353.73,544.64 L1355.92,543.08 L1357.61,542.58 L1359.30,543.64 L1361.31,542.18 L1363.44,543.70 L1365.63,542.21 L1367.63,543.95 L1369.32,542.96 L1370.95,545.20 L1371.82,545.82 L1373.45,545.45 L1374.64,546.38 L1377.64,546.32 L1379.33,547.07 L1381.02,547.79 L1383.03,546.94 L1385.16,545.82 L1387.66,546.07 L1389.35,545.88 L1392.67,546.32 L1395.17,546.94 L1397.74,547.00 L1400.24,547.44 L1402.74,547.57 L1405.25,546.85 L1407.75,547.07 L1409.88,547.57 L1411.88,547.13 L1414.39,547.32 L1416.95,547.19 L1419.46,547.69 L1422.77,547.88 L1425.59,547.50 L1428.59,547.94 L1433.60,547.67 L1436.98,547.82 L1441.18,548.03 L1442.68,547.90 L1444.18,547.92 L1445.68,547.79 L1447.18,547.77 L1448.69,547.88 L1450.19,547.93 L1451.69,547.83 L1453.19,547.84 L1454.70,547.91 L1456.20,548.01 L1457.70,548.10 L1459.20,547.85 L1460.70,547.69 L1462.21,547.56 L1463.71,547.55 L1465.21,547.58 L1466.71,547.44 L1468.22,547.34 L1469.72,547.46 L1471.22,547.65 L1472.72,547.70 L1474.22,547.93 L1475.73,548.07 L1477.23,548.09 L1478.73,548.05 L1480.23,548.10 L1481.74,548.13 L1483.24,548.05 L1484.74,548.19 L1486.24,548.23 L1487.74,548.07 L1489.25,548.00 L1490.75,548.18 L1492.25,548.36 L1493.75,548.37 L1495.26,548.29 L1496.76,548.51 L1498.26,548.68 L1499.76,548.38 L1501.26,548.08 L1502.77,548.19 L1504.27,548.40 L1505.77,548.59 L1507.27,548.66 L1508.78,548.62 L1510.28,548.57 L1511.78,548.58 L1513.28,548.86 L1514.78,548.87 L1516.29,548.85 L1517.79,548.97 L1519.29,548.94 L1520.79,548.96 L1522.30,548.94 L1523.80,548.98 L1525.30,549.07 L1526.80,548.98 L1528.30,549.01 L1529.81,548.94 L1531.31,548.72 L1532.81,548.69 L1534.31,548.93 L1535.82,549.14 L1537.32,549.33 L1538.82,549.01 L1540.32,548.69 L1541.82,548.73 L1543.33,548.86 L1544.83,549.17 L1546.33,548.60 L1547.83,548.24 L1549.34,548.16 L1550.84,548.11 L1552.34,547.96 L1553.84,547.96 L1555.34,548.10 L1556.85,548.10 L1558.35,547.79 L1559.85,547.26 L1561.35,547.18 L1562.86,547.23 L1564.36,547.22 L1565.86,547.12 L1567.36,547.00 L1568.86,546.82 L1570.37,546.92 L1571.87,546.93 L1573.37,546.70 L1574.87,546.75 L1576.38,546.91 L1577.88,547.03 L1579.38,547.23 L1580.88,547.44 L1582.38,547.28 L1583.89,547.16 L1585.39,547.30 L1586.89,547.51 L1588.39,547.74 L1589.90,547.86 L1591.40,547.94 L1592.90,547.98 L1594.40,548.11 L1595.90,548.17 L1597.41,548.15 L1598.91,548.27 L1600.41,548.46 L1601.91,548.66 L1603.42,548.98 L1604.92,549.26 L1606.42,549.30 L1607.92,549.50 L1609.42,549.77 L1610.93,550.03 L1612.43,550.37 L1613.93,550.49 L1615.43,550.67 L1616.94,550.91 L1618.44,551.02 L1619.94,551.26 L1621.44,551.35 L1622.94,551.25 L1624.45,551.37 L1625.95,551.53 L1627.45,551.57 L1628.95,551.61 L1630.46,551.55 L1631.96,551.39 L1633.46,551.54 L1634.96,551.69 L1636.46,551.64 L1637.97,551.66 L1639.47,551.79 L1640.97,551.81 L1642.47,551.71 L1643.98,551.69 L1645.48,551.67 L1646.98,551.66 L1648.48,551.74 L1649.98,551.82 L1651.49,551.77 L1652.99,551.70 L1654.49,551.64 L1655.99,551.62 L1657.50,551.60 L1659.00,551.64 L1661.07,551.72 L1661.36,551.73 L1661.64,551.74 L1661.93,551.75 L1662.21,551.76 L1662.50,551.76 L1662.78,551.77 L1663.07,551.78 L1663.35,551.79 L1663.64,551.79 L1663.93,551.80 L1664.21,551.81 L1664.50,551.81 L1664.78,551.81 L1665.07,551.82 L1665.35,551.82 L1665.64,551.83 L1665.92,551.83 L1666.21,551.83 L1666.49,551.84 L1666.78,551.84 L1667.06,551.84 L1667.35,551.84 L1667.63,551.84 L1667.92,551.84 L1668.20,551.84 L1668.49,551.84 L1668.77,551.84 L1669.06,551.84 L1669.34,551.84 L1669.63,551.84 L1669.91,551.84 L1670.20,551.84 L1670.48,551.84 L1670.77,551.83 L1671.06,551.83 L1671.34,551.83 L1671.63,551.83 L1671.91,551.82 L1672.20,551.82 L1672.48,551.82 L1672.77,551.81 L1673.05,551.81 L1673.34,551.81 L1673.62,551.80 L1673.91,551.80 L1674.19,551.79 L1674.48,551.79 L1674.76,551.78 L1675.05,551.78 L1675.33,551.77 L1675.62,551.77 L1675.90,551.76 L1676.19,551.76 L1676.47,551.75 L1676.76,551.75 L1677.04,551.74 L1677.33,551.74 L1677.61,551.73 L1677.90,551.72 L1678.18,551.72 L1678.47,551.71 L1678.76,551.71 L1679.04,551.70 L1679.33,551.70 L1679.61,551.69 L1679.90,551.68 L1680.18,551.68 L1680.47,551.67 L1680.75,551.67 L1681.04,551.66 L1681.32,551.65 L1681.61,551.64 L1681.89,551.64 L1682.18,551.63 L1682.46,551.62 L1682.75,551.61 L1683.03,551.60 L1683.32,551.59 L1683.60,551.58 L1683.89,551.57 L1684.17,551.56 L1684.46,551.55 L1684.74,551.54 L1685.03,551.53 L1685.31,551.52 L1685.60,551.50 L1685.89,551.49 L1686.17,551.47 L1686.46,551.46 L1686.74,551.44 L1687.03,551.43 L1687.31,551.41 L1687.60,551.39 L1687.88,551.37 L1688.17,551.35 L1688.45,551.33 L1688.74,551.31 L1689.02,551.29 L1689.31,551.27 L1689.59,551.25 L1689.88,551.22 L1690.16,551.20 L1690.45,551.17 L1690.73,551.14 L1691.02,551.11 L1691.30,551.08 L1691.59,551.05 L1691.87,551.02 L1692.16,550.99 L1692.44,550.96 L1692.73,550.92 L1693.02,550.88 L1693.30,550.84 L1693.59,550.78 L1693.87,550.73 L1694.16,550.67 L1694.44,550.60 L1694.73,550.53 L1695.01,550.46 L1695.30,550.38 L1695.58,550.30 L1695.87,550.22 L1696.15,550.13 L1696.44,550.04 L1696.72,549.96 L1697.01,549.86 L1697.29,549.77 L1697.58,549.68 L1697.86,549.59 L1698.15,549.50 L1698.43,549.40 L1698.72,549.31 L1699.00,549.22 L1699.29,549.13 L1699.57,549.05 L1699.86,548.96 L1700.14,548.88 L1700.43,548.80 L1700.72,548.72 L1701.00,548.65 L1701.29,548.58 L1701.57,548.51 L1701.86,548.44 L1702.14,548.37 L1702.43,548.31 L1702.71,548.25 L1703.00,548.19 L1703.28,548.13 L1703.57,548.07 L1703.85,548.01 L1704.14,547.95 L1704.42,547.90 L1704.71,547.84 L1704.99,547.79 L1705.28,547.73 L1705.56,547.67 L1705.85,547.62 L1706.13,547.56 L1706.42,547.50 L1706.70,547.44 L1706.99,547.38 L1707.27,547.32 L1707.56,547.26 L1707.85,547.20 L1708.13,547.13 L1708.42,547.07 L1708.70,547.00 L1708.99,546.92 L1709.27,546.82 L1709.56,546.67 L1709.84,546.50 L1710.13,546.29 L1710.41,546.05 L1710.70,545.79 L1710.98,545.51 L1711.27,545.21 L1711.55,544.88 L1711.84,544.55 L1712.12,544.20 L1712.41,543.84 L1712.69,543.47 L1712.98,543.10 L1713.26,542.71 L1713.55,542.28 L1713.83,541.81 L1714.12,541.31 L1714.40,540.77 L1714.69,540.20 L1714.98,539.59 L1715.26,538.94 L1715.55,538.26 L1715.83,537.55 L1716.12,536.80 L1716.40,536.01 L1716.69,535.19 L1716.97,534.33 L1717.26,533.43 L1717.54,532.49 L1717.83,531.52 L1718.11,530.50 L1718.40,529.45 L1718.68,528.37 L1718.97,527.25 L1719.25,526.11 L1719.54,524.94 L1719.82,523.74 L1720.11,522.52 L1720.39,521.28 L1720.68,520.02 L1720.96,518.74 L1721.25,517.44 L1721.53,516.09 L1721.82,514.70 L1722.10,513.26 L1722.39,511.79 L1722.68,510.29 L1722.96,508.76 L1723.25,507.20 L1723.53,505.63 L1723.82,503.98 L1724.10,502.24 L1724.39,500.41 L1724.67,498.50 L1724.96,496.53 L1725.24,494.50 L1725.53,492.43 L1725.81,490.31 L1726.10,488.17 L1726.38,486.00 L1726.67,483.63 L1726.95,480.96 L1727.24,478.05 L1727.52,474.92 L1727.81,471.64 L1728.09,468.24 L1728.38,464.76 L1728.66,460.38 L1728.95,454.93 L1729.23,449.08 L1729.52,443.48 L1729.81,438.81 L1730.09,435.66 L1730.38,433.49 L1730.66,431.87 L1730.95,430.55 L1731.23,429.33 L1731.52,428.36 L1731.80,428.08 L1732.09,428.76 L1732.37,430.24 L1732.66,432.29 L1732.94,434.78 L1733.23,437.58 L1733.51,440.49 L1733.80,443.29 L1734.08,445.76 L1734.37,447.97 L1734.65,449.90 L1734.94,451.35 L1735.22,452.15 L1735.51,452.19 L1735.79,451.61 L1736.08,450.54 L1736.36,449.10 L1736.65,447.44 L1736.94,445.73 L1737.22,444.02 L1737.51,442.12 L1737.79,439.83 L1738.08,436.99 L1738.36,433.68 L1738.65,430.30 L1738.93,426.86 L1739.22,423.38 L1739.50,419.85 L1739.79,416.29 L1740.07,412.66 L1740.36,408.98 L1740.64,405.27 L1740.93,401.58 L1741.21,397.92 L1741.50,394.34 L1741.78,390.87 L1742.07,387.54 L1742.35,384.30 L1742.64,381.12 L1742.92,377.97 L1743.21,374.84 L1743.49,371.69 L1743.78,368.52 L1744.07,365.36 L1744.35,362.20 L1744.64,359.03 L1744.92,355.83 L1745.21,352.56 L1745.49,349.21 L1745.78,345.72 L1746.06,341.23 L1746.35,335.68 L1746.63,329.55 L1746.92,323.29 L1747.20,317.36 L1747.49,312.12 L1747.77,307.10 L1748.06,302.13 L1748.34,297.19 L1748.63,292.23 L1748.91,287.21 L1749.20,282.10 L1749.48,276.84 L1749.77,271.41 L1750.05,265.86 L1750.34,260.25 L1750.62,254.65 L1750.91,249.11 L1751.19,243.70 L1751.48,238.48 L1751.77,233.41 L1752.05,228.44 L1752.34,223.51 L1752.62,218.61 L1752.91,213.69 L1753.19,208.71 L1753.48,203.64 L1753.76,198.47 L1754.05,193.23 L1754.33,187.94 L1754.62,182.64 L1754.90,177.36 L1755.19,172.12 L1755.47,166.96 L1755.76,161.93 L1756.04,157.05 L1756.33,152.28 L1756.61,147.61 L1756.90,143.00 L1757.18,138.43 L1757.47,133.87 L1757.75,129.39 L1758.04,125.15 L1758.32,121.15 L1758.61,117.41 L1758.90,113.93 L1759.18,110.90 L1759.47,108.48 L1759.75,106.61 L1760.04,105.19 L1760.32,104.11 L1760.61,103.18 L1760.89,102.45 L1761.18,101.93 L1761.46,101.67 L1761.75,101.64 L1762.03,101.71 L1762.32,101.92 L1762.60,102.30 L1762.89,102.90 L1763.17,103.57 L1763.46,104.30 L1763.74,105.11 L1764.03,106.03 L1764.31,107.08 L1764.60,108.27 L1764.88,109.48 L1765.17,110.72 L1765.45,111.98 L1765.74,113.25 L1766.03,114.55 L1766.31,115.85 L1766.60,117.17 L1766.88,118.52 L1767.17,119.89 L1767.45,121.30 L1767.74,122.72 L1768.02,124.17 L1768.31,125.73 L1768.59,127.52 L1768.88,129.52 L1769.16,131.70 L1769.45,134.01 L1769.73,136.42 L1770.02,138.98 L1770.30,141.77 L1770.59,144.87 L1770.87,148.34 L1771.16,152.27 L1771.44,156.66 L1771.73,161.20 L1772.01,165.79 L1772.30,170.41 L1772.58,175.05 L1772.87,179.50 L1773.15,183.83 L1773.44,188.24 L1773.73,192.94 L1774.01,198.12 L1774.30,203.87 L1774.58,209.70 L1774.87,215.53 L1775.15,221.36 L1775.44,227.19 L1775.72,233.03 L1776.01,238.86 L1776.29,244.69 L1776.58,250.52 L1776.86,257.33 L1777.15,265.39 L1777.43,273.61 L1777.72,280.90 L1778.00,286.73 L1778.29,291.98 L1778.57,296.84 L1778.86,301.45 L1779.14,305.93 L1779.43,310.12 L1779.71,313.98 L1780.00,317.25 L1780.28,319.03 L1780.57,319.51 L1780.86,318.63 L1781.14,316.07 L1781.43,311.82 L1781.71,306.93 L1782.00,301.71 L1782.28,295.92 L1782.57,289.53 L1782.85,284.40 L1783.14,282.11 L1783.42,281.43 L1783.71,280.83 L1783.99,280.74 L1784.28,281.99 L1784.56,285.31 L1784.85,290.28 L1785.13,296.27 L1785.42,302.90 L1785.70,308.85 L1785.99,313.66 L1786.27,317.93 L1786.56,321.57 L1786.84,324.55 L1787.13,327.29 L1787.41,329.80 L1787.70,331.95 L1787.99,333.77 L1788.27,335.55 L1788.56,337.33 L1788.84,339.10 L1789.13,340.90 L1789.41,342.71 L1789.70,344.51 L1789.98,346.32 L1790.27,348.19 L1790.55,350.12 L1790.84,352.16 L1791.12,354.72 L1791.41,357.84 L1791.69,361.31 L1791.98,364.89 L1792.26,368.34 L1792.55,371.44 L1792.83,374.38 L1793.12,377.28 L1793.40,380.13 L1793.69,382.91 L1793.97,385.58 L1794.26,388.14 L1794.54,390.56 L1794.83,392.70 L1795.11,394.49 L1795.40,396.03 L1795.69,397.40 L1795.97,398.69 L1796.26,399.97 L1796.54,401.32 L1796.83,402.84 L1797.11,404.60 L1797.40,406.68 L1797.68,409.06 L1797.97,411.62 L1798.25,414.28 L1798.54,416.95 L1798.82,419.55 L1799.11,421.99 L1799.39,424.19 L1799.68,426.24 L1799.96,428.27 L1800.25,430.29 L1800.53,432.29 L1800.82,434.27 L1801.10,436.23 L1801.39,438.17 L1801.67,440.09 L1801.96,442.00 L1802.24,443.89 L1802.53,445.77 L1802.82,447.65 L1803.10,449.51 L1803.39,451.35 L1803.67,453.18 L1803.96,455.00 L1804.24,456.73 L1804.53,458.36 L1804.81,459.91 L1805.10,461.36 L1805.38,462.74 L1805.67,464.05 L1805.95,465.29 L1806.24,466.41 L1806.52,467.38 L1806.81,468.22 L1807.09,468.93 L1807.38,469.52 L1807.66,470.01 L1807.95,470.40 L1808.23,470.69 L1808.52,470.87 L1808.80,470.97 L1809.09,470.99 L1809.37,470.95 L1809.66,470.88 L1809.95,470.78 L1810.23,470.67 L1810.52,470.57 L1810.80,470.50 L1811.09,470.46 L1811.37,470.48 L1811.66,470.58 L1811.94,470.77 L1812.23,471.06 L1812.51,471.47 L1812.80,471.93 L1813.08,472.43 L1813.37,472.98 L1813.65,473.58 L1813.94,474.23 L1814.22,474.93 L1814.51,475.69 L1814.79,476.51 L1815.08,477.38 L1815.36,478.28 L1815.65,479.23 L1815.93,480.21 L1816.22,481.23 L1816.50,482.29 L1816.79,483.39 L1817.07,484.55 L1817.36,485.79 L1817.65,487.10 L1817.93,488.47 L1818.22,489.88 L1818.50,491.31 L1818.79,492.75 L1819.07,494.17 L1819.36,495.57 L1819.64,496.92 L1819.93,498.20 L1820.21,499.41 L1820.50,500.52 L1820.78,501.53 L1821.07,502.50 L1821.35,503.40 L1821.64,504.26 L1821.92,505.06 L1822.21,505.83 L1822.49,506.56 L1822.78,507.26 L1823.06,507.93 L1823.35,508.57 L1823.63,509.21 L1823.92,509.83 L1824.20,510.44 L1824.49,511.03 L1824.78,511.61 L1825.06,512.16 L1825.35,512.69 L1825.63,513.20 L1825.92,513.67 L1826.20,514.11 L1826.49,514.52 L1826.77,514.88 L1827.06,515.21 L1827.34,515.49 L1827.63,515.74 L1827.91,515.95 L1828.20,516.13 L1828.48,516.28 L1828.77,516.41 L1829.05,516.51 L1829.34,516.60 L1829.62,516.68 L1829.91,516.75 L1830.19,516.82 L1830.48,516.88 L1830.76,516.94 L1831.05,517.01 L1831.33,517.09 L1831.62,517.19 L1831.91,517.30 L1832.19,517.43 L1832.48,517.58 L1832.76,517.76 L1833.05,517.98 L1833.33,518.23 L1833.62,518.51 L1833.90,518.82 L1834.19,519.15 L1834.47,519.50 L1834.76,519.86 L1835.04,520.24 L1835.33,520.63 L1835.61,521.04 L1835.90,521.46 L1836.18,521.90 L1836.47,522.35 L1836.75,522.80 L1837.04,523.33 L1837.32,523.95 L1837.61,524.64 L1837.89,525.36 L1838.18,526.08 L1838.46,526.77 L1838.75,527.39 L1839.03,527.91 L1839.32,528.29 L1839.61,528.55 L1839.89,528.71 L1840.18,528.78 L1840.46,528.80 L1840.75,528.79 L1841.03,528.78 L1841.32,528.79 L1841.60,528.84 L1841.89,528.96 L1842.17,529.17 L1842.46,529.49 L1842.74,529.87 L1843.03,530.30 L1843.31,530.75 L1843.60,531.20 L1843.88,531.62 L1844.17,532.00 L1844.45,532.32 L1844.74,532.54 L1845.02,532.71 L1845.31,532.86 L1845.59,533.01 L1845.88,533.15 L1846.16,533.29 L1846.45,533.41 L1846.74,533.53 L1847.02,533.65 L1847.31,533.76 L1847.59,533.87 L1847.88,533.98 L1848.16,534.08 L1848.45,534.18 L1848.73,534.28 L1849.02,534.39 L1849.30,534.49 L1849.59,534.60 L1849.87,534.70 L1850.16,534.82 L1850.44,534.93 L1850.73,535.05 L1851.01,535.18 L1851.30,535.31 L1851.58,535.45 L1851.87,535.59 L1852.15,535.75 L1852.44,535.91 L1852.72,536.09 L1853.01,536.28 L1853.29,536.47 L1853.58,536.68 L1853.87,536.89 L1854.15,537.10 L1854.44,537.32 L1854.72,537.53 L1855.01,537.74 L1855.29,537.95 L1855.58,538.15 L1855.86,538.35 L1856.15,538.53 L1856.43,538.71 L1856.72,538.87 L1857.00,539.01 L1857.29,539.14 L1857.57,539.25 L1857.86,539.35 L1858.14,539.44 L1858.43,539.53 L1858.71,539.60 L1859.00,539.68 L1859.28,539.75 L1859.57,539.81 L1859.85,539.87 L1860.14,539.93 L1860.42,539.99 L1860.71,540.04 L1860.99,540.09 L1861.28,540.14 L1861.57,540.19 L1861.85,540.24 L1862.14,540.29 L1862.42,540.34 L1862.71,540.39 L1862.99,540.44 L1863.28,540.50 L1863.56,540.56 L1863.85,540.62 L1864.13,540.69 L1864.42,540.76 L1864.70,540.84 L1864.99,540.93 L1865.27,541.02 L1865.56,541.11 L1865.84,541.21 L1866.13,541.31 L1866.41,541.41 L1866.70,541.51 L1866.98,541.62 L1867.27,541.72 L1867.55,541.83 L1867.84,541.94 L1868.12,542.04 L1868.41,542.14 L1868.70,542.24 L1868.98,542.34 L1869.27,542.43 L1869.55,542.52 L1869.84,542.61 L1870.12,542.69 L1870.41,542.77 L1870.69,542.85 L1870.98,542.92 L1871.26,542.99 L1871.55,543.06 L1871.83,543.12 L1872.12,543.19 L1872.40,543.25 L1872.69,543.31 L1872.97,543.36 L1873.26,543.42 L1873.54,543.47 L1873.83,543.52 L1874.11,543.57 L1874.40,543.62 L1874.68,543.66 L1874.97,543.70 L1875.25,543.75 L1875.54,543.78 L1875.83,543.82 L1876.11,543.86 L1876.40,543.89 L1876.68,543.92 L1876.97,543.95 L1877.25,543.98 L1877.54,544.01 L1877.82,544.03 L1878.11,544.05 L1878.39,544.07 L1878.68,544.09 L1878.96,544.11 L1879.25,544.12 L1879.53,544.13 L1879.82,544.14 L1880.10,544.15 L1880.39,544.15 L1880.67,544.16 L1880.96,544.16 L1881.24,544.16 L1881.53,544.16 L1881.81,544.15 L1882.10,544.15 L1882.38,544.14 L1882.67,544.14 L1882.95,544.13 L1883.24,544.12 L1883.53,544.11 L1883.81,544.10 L1884.10,544.09 L1884.38,544.07 L1884.67,544.06 L1884.95,544.05 L1885.24,544.03 L1885.52,544.01 L1885.81,544.00 L1886.09,543.97 L1886.38,543.95 L1886.66,543.92 L1886.95,543.88 L1887.23,543.84 L1887.52,543.80 L1887.80,543.76 L1888.09,543.71 L1888.37,543.66 L1888.66,543.61 L1888.94,543.55 L1889.23,543.49 L1889.51,543.42 L1889.80,543.35 L1890.08,543.28 L1890.37,543.21 L1890.66,543.13 L1890.94,543.03 L1891.23,542.93 L1891.51,542.82 L1891.80,542.70 L1892.08,542.57 L1892.37,542.43 L1892.65,542.28 L1892.94,542.13 L1893.22,541.97 L1893.51,541.80 L1893.79,541.63 L1894.08,541.45 L1894.36,541.27 L1894.65,541.09 L1894.93,540.91 L1895.22,540.72 L1895.50,540.53 L1895.79,540.33 L1896.07,540.11 L1896.36,539.88 L1896.64,539.64 L1896.93,539.38 L1897.21,539.11 L1897.50,538.84 L1897.79,538.56 L1898.07,538.27 L1898.36,537.98 L1898.64,537.70 L1898.93,537.41 L1899.21,537.13 L1899.50,536.85 L1899.78,536.58 L1900.07,536.31 L1900.35,536.06 L1900.64,535.82 L1900.92,535.66 L1901.21,535.57 L1901.49,535.53 L1901.78,535.52 L1902.06,535.52 L1902.35,535.51 L1902.63,535.45 L1902.92,535.33 L1903.20,535.09 L1903.49,534.37 L1903.77,533.41 L1904.06,532.65 L1904.34,532.35 L1904.63,532.24 L1904.91,532.24 L1905.20,532.27 L1905.49,532.26 L1905.77,532.15 L1906.06,531.90 L1906.34,531.67 L1906.63,531.43 L1906.91,531.15 L1907.20,530.77 L1907.48,530.25 L1907.77,529.54 L1908.05,528.59 L1908.34,527.39 L1908.62,526.16 L1908.91,524.93 L1909.19,523.69 L1909.48,522.45 L1909.76,521.21 L1910.05,519.96 L1910.33,518.72 L1910.62,517.48 L1910.90,516.23 L1911.19,514.99 L1911.47,513.75 L1911.76,512.51 L1912.04,511.26 L1912.33,510.01 L1912.62,508.75 L1912.90,507.37 L1913.19,505.22 L1913.47,502.49 L1913.76,499.56 L1914.04,496.77 L1914.33,494.49 L1914.61,492.51 L1914.90,490.56 L1915.18,488.64 L1915.47,486.76 L1915.75,484.92 L1916.04,483.11 L1916.32,481.33 L1916.61,479.62 L1916.89,477.98 L1917.18,476.41 L1917.46,474.90 L1917.75,473.44 L1918.03,472.09 L1918.32,471.13 L1918.60,470.66 L1918.89,470.76 L1919.17,471.47 L1919.46,472.66 L1919.75,474.15 L1920.03,475.87 L1920.32,477.97 L1920.60,480.10 L1920.89,481.86 L1921.17,483.05 L1921.46,483.78 L1921.74,484.10 L1922.03,484.06 L1922.31,483.84 L1922.60,483.44 L1922.88,482.82 L1923.17,481.94 L1923.45,480.78 L1923.74,479.40 L1924.02,477.89 L1924.31,476.28 L1924.59,474.61 L1924.88,472.89 L1925.16,471.12 L1925.45,469.21 L1925.73,467.18 L1926.02,465.01 L1926.30,462.72 L1926.59,460.31 L1926.87,457.11 L1927.16,452.84 L1927.45,447.85 L1927.73,442.46 L1928.02,436.70 L1928.30,429.94 L1928.59,422.28 L1928.87,413.87 L1929.16,404.68 L1929.44,393.65 L1929.73,380.81 L1930.01,366.45 L1930.30,349.05 L1930.58,329.01 L1930.87,310.52 L1931.15,295.67 L1931.44,283.40 L1931.72,273.81 L1932.01,268.48 L1932.29,267.31 L1932.58,269.32 L1932.86,277.90 L1933.15,290.02 L1933.43,303.47 L1933.72,317.76 L1934.00,332.08 L1934.29,345.68 L1934.58,358.15 L1934.86,369.42 L1935.15,378.55 L1935.43,385.59 L1935.72,390.86 L1936.00,394.87 L1936.29,397.90 L1936.57,399.91 L1936.86,400.84 L1937.14,400.74 L1937.43,400.04 L1937.71,398.84 L1938.00,397.16 L1938.28,395.03 L1938.57,392.50 L1938.85,389.07 L1939.14,384.09 L1939.42,377.17 L1939.71,368.76 L1939.99,359.23 L1940.28,348.92 L1940.56,338.37 L1940.85,327.59 L1941.13,316.41 L1941.42,304.66 L1941.71,292.30 L1941.99,279.65 L1942.28,267.08 L1942.56,254.97 L1942.85,243.60 L1943.13,232.75 L1943.42,222.05 L1943.70,211.12 L1943.99,199.53 L1944.27,186.97 L1944.56,174.05 L1944.84,161.48 L1945.13,149.88 L1945.41,139.36 L1945.70,129.95 L1945.98,121.71 L1946.27,114.62 L1946.55,108.53 L1946.84,103.38 L1947.12,99.12 L1947.41,95.67 L1947.69,92.80 L1947.98,90.54 L1948.26,89.03 L1948.55,88.25 L1948.83,87.99 L1949.12,88.98 L1949.41,91.64 L1949.69,97.10 L1949.98,105.72 L1950.26,116.16 L1950.55,127.22 L1950.83,139.26 L1951.12,151.69 L1951.40,164.12 L1951.69,176.55 L1951.97,188.99 L1952.26,201.42 L1952.54,213.85 L1952.83,226.29 L1953.11,238.79 L1953.40,251.31 L1953.68,263.83 L1953.97,276.32 L1954.25,288.75 L1954.54,301.17 L1954.82,313.60 L1955.11,326.04 L1955.39,337.49 L1955.68,347.11 L1955.96,355.51 L1956.25,363.50 L1956.54,371.60 L1956.82,379.69 L1957.11,387.72 L1957.39,395.65 L1957.68,403.38 L1957.96,410.71 L1958.25,417.68 L1958.53,424.43 L1958.82,431.07 L1959.10,437.56 L1959.39,443.47 L1959.67,448.35 L1959.96,452.01 L1960.24,455.22 L1960.53,458.14 L1960.81,460.88 L1961.10,463.52 L1961.38,466.14 L1961.67,468.72 L1961.95,471.21 L1962.24,473.54 L1962.52,475.71 L1962.81,477.74 L1963.09,479.61 L1963.38,481.33 L1964.22,485.44 L1966.21,490.85 L1967.70,497.76 L1968.68,499.09 L1969.92,494.10 L1970.91,491.93 L1972.14,494.10 L1973.63,506.00 L1975.38,506.66 L1976.61,513.65 L1977.70,520.14 L1979.08,513.65 L1980.57,510.82 L1981.56,506.00 L1982.30,495.18 L1983.06,494.10 L1984.05,501.67 L1985.28,512.57 L1986.27,514.23 L1987.51,507.74 L1988.99,511.49 L1990.23,506.00 L1991.46,502.75 L1993.10,508.66" fill="none" stroke="#000" stroke-width="3.8" stroke-linejoin="round" stroke-linecap="round"/>
<clipPath id="cm"><rect x="334" y="740" width="1860" height="610"/></clipPath>
<g clip-path="url(#cm)">
<path d="M334.0,1206.4 L336.6,1206.0 L339.2,1195.8 L341.8,1202.7 L344.4,1197.9 L347.0,1188.2 L349.6,1192.1 L352.2,1192.5 L354.8,1186.2 L357.4,1186.0 L360.0,1188.8 L362.6,1191.5 L365.2,1185.5 L367.8,1179.4 L370.4,1190.4 L373.0,1200.3 L375.6,1188.6 L378.2,1183.0 L380.8,1184.5 L383.4,1177.7 L386.0,1177.5 L388.6,1179.0 L391.2,1186.6 L393.8,1191.2 L396.4,1187.2 L399.0,1182.6 L401.6,1182.3 L404.2,1183.3 L406.8,1186.4 L409.4,1184.1 L412.0,1180.7 L414.6,1182.8 L417.2,1182.5 L419.8,1183.9 L422.4,1184.8 L425.0,1189.2 L427.6,1187.9 L430.2,1188.7 L432.8,1187.7 L435.4,1179.2 L438.0,1180.8 L440.6,1184.1 L443.2,1184.7 L445.8,1188.4 L448.4,1191.9 L451.0,1188.5 L453.6,1182.4 L456.2,1181.5 L458.8,1190.2 L461.4,1193.0 L464.0,1183.3 L466.6,1181.0 L469.2,1185.6 L471.8,1194.7 L474.4,1194.9 L477.0,1197.6 L479.6,1198.8 L482.2,1188.0 L484.8,1181.6 L487.4,1183.2 L490.0,1182.0 L492.6,1172.7 L495.2,1176.1 L497.8,1180.7 L500.4,1184.5 L503.0,1185.3 L505.6,1169.8 L508.2,1174.5 L510.8,1179.7 L513.4,1184.0 L516.0,1200.4 L518.6,1193.5 L521.2,1182.4 L523.8,1178.9 L526.4,1186.8 L529.0,1191.2 L531.6,1184.5 L534.2,1183.8 L536.8,1194.3 L539.4,1196.2 L542.0,1190.1 L544.6,1191.3 L547.2,1191.9 L549.8,1192.5 L552.4,1184.8 L555.0,1179.0 L557.6,1178.3 L560.2,1175.7 L562.8,1183.7 L565.4,1184.9 L568.0,1180.1 L570.6,1179.6 L573.2,1177.7 L575.8,1184.1 L578.4,1184.9 L581.0,1180.0 L583.6,1184.1 L586.2,1188.4 L588.8,1188.4 L591.4,1185.0 L594.0,1172.6 L596.6,1172.5 L599.2,1170.4 L601.8,1158.3 L604.4,1122.6 L607.0,1093.2 L609.6,1097.1 L612.2,1144.8 L614.8,1168.5 L617.4,1172.4 L620.0,1176.9 L622.6,1179.1 L625.2,1167.4 L627.8,1165.0 L630.4,1177.8 L633.0,1193.2 L635.6,1186.5 L638.2,1178.5 L640.8,1191.6 L643.4,1194.0 L646.0,1186.4 L648.6,1177.9 L651.2,1172.0 L653.8,1174.6 L656.4,1180.3 L659.0,1174.0 L661.6,1168.4 L664.2,1178.8 L666.8,1184.0 L669.4,1178.7 L672.0,1177.7 L674.6,1176.5 L677.2,1181.1 L679.8,1190.2 L682.4,1193.9 L685.0,1189.1 L687.6,1182.7 L690.2,1186.4 L692.8,1191.8 L695.4,1193.1 L698.0,1192.2 L700.6,1184.9 L703.2,1174.6 L705.8,1182.1 L708.4,1189.6 L711.0,1187.0 L713.6,1185.1 L716.2,1180.6 L718.8,1189.8 L721.4,1196.9 L724.0,1186.5 L726.6,1185.9 L729.2,1191.4 L731.8,1191.7 L734.4,1199.4 L737.0,1196.9 L739.6,1182.2 L742.2,1182.3 L744.8,1184.7 L747.4,1186.6 L750.0,1190.4 L752.6,1189.9 L755.2,1186.9 L757.8,1187.4 L760.4,1187.9 L763.0,1188.6 L765.6,1189.8 L768.2,1183.3 L770.8,1186.8 L773.4,1188.8 L776.0,1192.9 L778.6,1197.7 L781.2,1193.8 L783.8,1192.5 L786.4,1190.5 L789.0,1180.4 L791.6,1185.8 L794.2,1192.4 L796.8,1191.4 L799.4,1192.3 L802.6,1187.3 L805.2,1177.5 L807.8,1181.4 L810.4,1190.7 L813.0,1185.4 L815.6,1189.6 L818.2,1195.5 L820.8,1201.1 L823.4,1204.3 L826.0,1194.8 L828.6,1196.1 L831.2,1196.9 L833.8,1193.0 L836.4,1192.3 L839.0,1190.9 L841.6,1192.0 L844.2,1194.3 L846.8,1193.4 L849.4,1196.9 L852.0,1192.1 L854.6,1185.6 L857.2,1192.6 L859.8,1190.8 L862.4,1193.5 L865.0,1199.6 L867.6,1194.7 L870.2,1194.6 L872.8,1193.7 L875.4,1188.0 L878.0,1192.8 L880.6,1200.4 L883.2,1197.7 L885.8,1194.4 L888.4,1187.2 L891.0,1184.4 L893.6,1189.0 L896.2,1191.8 L898.8,1197.0 L901.4,1194.4 L904.0,1187.4 L906.6,1191.5 L909.2,1193.1 L911.8,1185.6 L914.4,1189.3 L917.0,1191.1 L919.6,1186.1 L922.2,1186.0 L924.8,1189.1 L927.4,1195.9 L930.0,1194.0 L932.6,1192.4 L935.2,1192.4 L937.8,1198.7 L940.4,1205.0 L943.0,1196.5 L945.6,1194.0 L948.2,1199.0 L950.8,1199.1 L953.4,1194.3 L956.0,1192.9 L958.6,1197.8 L961.2,1199.8 L963.8,1194.9 L966.4,1194.9 L969.0,1194.3 L971.6,1186.4 L974.2,1189.9 L976.8,1199.2 L979.4,1199.9 L982.0,1201.4 L984.6,1205.2 L987.2,1201.8 L989.8,1194.5 L992.4,1193.2 L995.0,1190.6 L997.6,1190.6 L1000.2,1194.6 L1002.8,1196.0 L1005.4,1200.4 L1008.0,1194.2 L1010.6,1193.9 L1013.2,1199.5 L1015.8,1202.3 L1018.4,1207.4 L1021.0,1204.8 L1023.6,1209.8 L1026.2,1212.7 L1028.8,1213.2 L1031.4,1215.3 L1034.0,1213.9 L1036.6,1212.4 L1039.2,1213.1 L1041.8,1212.3 L1044.4,1206.6 L1047.0,1209.8 L1049.6,1210.1 L1052.2,1204.4 L1054.8,1201.6 L1057.4,1203.2 L1060.0,1207.2 L1062.6,1206.2 L1065.2,1201.6 L1067.8,1204.8 L1070.4,1212.5 L1073.0,1212.9 L1075.6,1209.6 L1078.2,1207.6 L1080.8,1208.3 L1083.4,1212.1 L1086.0,1210.5 L1088.6,1197.8 L1091.2,1196.1 L1093.8,1201.3 L1096.4,1208.0 L1099.0,1209.9 L1101.6,1204.2 L1104.2,1207.3 L1106.8,1207.8 L1109.4,1206.8 L1112.0,1205.4 L1114.6,1203.9 L1117.2,1201.5 L1119.8,1200.4 L1122.4,1197.8 L1125.0,1196.7 L1127.6,1198.5 L1130.2,1199.2 L1132.8,1200.4 L1135.4,1201.7 L1138.0,1204.9 L1140.6,1204.9 L1143.2,1204.3 L1145.8,1206.6 L1148.4,1205.8 L1151.0,1205.0 L1153.6,1207.4 L1156.2,1203.2 L1158.8,1204.5 L1161.4,1208.6 L1164.0,1195.9 L1166.6,1199.4 L1169.2,1207.3 L1171.8,1208.9 L1174.4,1209.9 L1177.0,1207.0 L1179.6,1212.4 L1182.2,1210.8 L1184.8,1205.9 L1187.4,1208.1 L1190.0,1215.4 L1192.6,1219.2 L1195.2,1219.4 L1197.8,1217.4 L1200.4,1214.8 L1203.0,1217.0 L1205.6,1217.3 L1208.2,1211.2 L1210.8,1211.3 L1213.4,1211.7 L1216.0,1206.4 L1218.6,1207.8 L1221.2,1209.5 L1223.8,1211.2 L1226.4,1211.7 L1229.0,1207.3 L1231.6,1205.7 L1234.2,1205.4 L1236.8,1204.9 L1239.4,1210.9 L1242.0,1213.5 L1244.6,1208.9 L1247.2,1207.1 L1249.8,1206.8 L1252.4,1207.6 L1255.0,1205.3 L1257.6,1208.1 L1260.2,1212.8 L1262.8,1214.9 L1265.4,1220.5 L1268.0,1221.3 L1270.6,1217.2 L1273.2,1214.5 L1275.8,1216.6 L1278.4,1217.7 L1285.3,1208.3 L1292.0,1216.3 L1298.7,1216.3 L1304.0,1221.7 L1309.4,1202.4 L1312.6,1224.3 L1316.6,1206.2 L1320.0,1220.3 L1328.0,1223.0 L1334.7,1213.6 L1340.1,1209.6 L1344.1,1219.0 L1352.1,1216.3 L1356.9,1207.8 L1361.4,1224.3 L1365.4,1227.0 L1370.0,1208.8 L1373.4,1220.3 L1380.1,1212.3 L1386.8,1219.0 L1391.6,1239.0 L1395.3,1208.3 L1399.6,1234.5 L1403.3,1216.3 L1409.5,1231.0 L1413.5,1217.7 L1418.8,1216.3 L1426.0,1202.4 L1432.2,1217.7 L1440.2,1211.0 L1448.2,1217.7 L1453.5,1215.0 L1457.5,1231.0 L1462.9,1220.3 L1466.9,1205.1 L1471.4,1233.7 L1478.9,1192.3 L1482.9,1235.0 L1486.9,1209.6 L1493.6,1199.0 L1496.8,1187.0 L1501.0,1207.0 L1506.4,1168.3 L1509.6,1204.3 L1512.2,1183.0 L1514.9,1212.3 L1518.9,1215.0 L1522.9,1192.3 L1526.9,1166.9 L1530.9,1221.7 L1533.6,1245.7 L1537.6,1187.0 L1541.6,1221.7 L1545.6,1212.3 L1549.1,1243.0 L1553.6,1211.0 L1557.6,1203.0 L1563.5,1231.0 L1568.8,1200.3 L1573.6,1211.0 L1578.5,1227.0 L1582.2,1203.5 L1586.2,1239.0 L1589.7,1208.3 L1593.7,1208.3 L1597.7,1232.3 L1601.7,1245.7 L1605.7,1229.7 L1609.7,1195.0 L1613.7,1240.3 L1617.7,1248.3 L1621.7,1296.4 L1625.7,1234.5 L1630.2,1298.5 L1635.0,1224.3 L1637.7,1223.0 L1642.3,1267.0 L1647.1,1224.3 L1649.7,1235.0 L1652.9,1295.1 L1655.9,1275.0 L1659.1,1272.4 L1662.3,1207.0 L1665.7,1251.0 L1667.6,1276.4 L1669.7,1261.7 L1673.8,1259.0 L1676.4,1276.4 L1680.4,1231.0 L1684.4,1253.7 L1688.4,1244.3 L1692.4,1251.0 L1696.4,1243.0 L1700.5,1244.3 L1703.9,1231.0 L1708.5,1240.3 L1712.5,1241.7 L1716.5,1248.3 L1720.5,1253.7 L1724.5,1237.7 L1728.5,1247.0 L1733.8,1249.7 L1737.8,1244.3 L1743.2,1251.0 L1749.8,1249.7 L1755.2,1247.0 L1759.2,1252.4 L1765.9,1245.7 L1768.3,1240.9 L1770.7,1240.0 L1773.1,1244.7 L1775.5,1249.7 L1777.9,1249.9 L1780.3,1249.2 L1782.7,1248.2 L1785.1,1246.3 L1787.5,1247.6 L1789.9,1247.9 L1792.3,1245.2 L1794.7,1246.3 L1797.1,1250.4 L1799.5,1253.8 L1801.9,1250.1 L1804.3,1244.9 L1806.7,1246.9 L1809.1,1250.5 L1811.5,1251.8 L1813.9,1247.2 L1816.3,1245.6 L1818.7,1243.6 L1821.1,1244.3 L1823.5,1248.6 L1825.9,1252.3 L1828.3,1253.6 L1830.7,1253.3 L1833.1,1252.6 L1835.5,1247.7 L1837.9,1243.9 L1840.3,1244.6 L1842.7,1244.7 L1845.1,1244.0 L1847.5,1244.8 L1849.9,1244.3 L1852.3,1243.5 L1854.7,1244.6 L1857.1,1244.4 L1859.5,1245.3 L1861.9,1246.7 L1864.3,1246.7 L1866.7,1246.3 L1869.1,1246.9 L1871.5,1249.0 L1873.9,1249.0 L1876.3,1242.7 L1878.7,1242.0 L1881.1,1244.0 L1883.5,1242.0 L1885.9,1245.6 L1888.3,1247.4 L1890.7,1250.1 L1893.1,1251.4 L1895.5,1247.6 L1897.9,1243.8 L1900.3,1244.1 L1902.7,1247.0 L1905.1,1246.7 L1907.5,1247.5 L1909.9,1246.4 L1912.3,1242.7 L1914.7,1239.4 L1917.1,1236.7 L1919.5,1234.7 L1921.9,1232.1 L1924.3,1228.1 L1926.7,1214.8 L1929.1,1205.4 L1931.5,1201.1 L1933.9,1206.7 L1936.3,1210.5 L1938.7,1214.0 L1941.1,1216.9 L1943.5,1219.4 L1945.9,1222.0 L1948.3,1220.4 L1950.7,1217.7 L1953.1,1215.0 L1955.5,1213.4 L1957.9,1212.6 L1960.3,1211.9 L1962.7,1215.4 L1965.1,1213.0 L1967.5,1208.3 L1969.9,1204.6 L1972.3,1201.4 L1974.7,1193.6 L1977.1,1184.1 L1979.5,1164.9 L1981.9,1139.5 L1984.3,1106.9 L1986.7,1084.4 L1989.1,1066.5 L1991.5,1059.9 L1993.9,1068.2 L1996.3,1092.5 L1998.7,1120.2 L2001.1,1147.6 L2003.5,1172.2 L2005.9,1189.6 L2008.3,1191.2 L2010.7,1192.9 L2013.1,1184.4 L2015.5,1170.6 L2017.9,1151.1 L2020.3,1141.1 L2022.7,1139.2 L2025.1,1149.1 L2027.5,1167.7 L2029.9,1186.5 L2032.3,1199.6 L2034.7,1210.6 L2037.1,1218.6 L2039.5,1226.3 L2041.9,1230.5 L2044.3,1234.5 L2046.7,1238.4 L2049.1,1241.2 L2051.5,1243.4 L2053.9,1251.0 L2056.3,1252.9 L2058.7,1251.9 L2061.1,1253.1 L2063.5,1254.1 L2065.9,1252.4 L2068.3,1249.2 L2070.7,1249.3 L2073.1,1250.8 L2075.5,1249.4 L2077.9,1249.1 L2080.3,1252.9 L2082.7,1252.3 L2085.1,1251.9 L2087.5,1253.6 L2089.9,1250.6 L2092.3,1250.1 L2094.7,1252.1 L2097.1,1253.5 L2099.5,1254.2 L2101.9,1252.4 L2104.3,1250.0 L2106.7,1244.6 L2109.1,1241.5 L2111.5,1239.2 L2113.9,1237.0 L2116.3,1236.4 L2118.7,1234.5 L2121.1,1234.8 L2123.5,1237.7 L2125.9,1237.7 L2128.3,1233.5 L2130.7,1230.3 L2133.1,1228.1 L2135.5,1224.7 L2137.9,1223.5 L2140.3,1228.8 L2142.7,1231.0 L2145.1,1229.1 L2147.5,1226.3 L2149.9,1227.0 L2152.3,1229.9 L2154.7,1228.5 L2157.1,1225.0 L2159.5,1223.1 L2161.9,1221.3 L2164.3,1219.9 L2166.7,1215.9 L2169.1,1210.4 L2171.5,1207.2 L2173.9,1202.2 L2176.3,1199.2" fill="none" stroke="#00ff00" stroke-width="4.4" stroke-linejoin="round" stroke-linecap="round"/>
<path d="M334.0,963.0 L337.4,962.8 L346.7,957.5 L356.0,957.5 L362.7,965.5 L368.0,958.8 L370.7,968.1 L377.4,965.5 L379.3,973.5 L385.4,953.5 L390.7,997.5 L396.1,965.5 L400.1,973.5 L404.1,981.5 L407.6,970.8 L412.1,985.5 L417.4,968.1 L422.0,1013.5 L426.8,964.1 L431.6,992.2 L440.1,962.8 L444.1,988.2 L450.8,969.5 L456.1,978.8 L462.8,958.8 L472.2,961.5 L474.8,968.1 L480.2,960.1 L485.5,965.5 L490.0,1004.2 L494.9,973.5 L499.4,1005.5 L504.2,978.8 L508.2,986.8 L512.2,970.8 L515.4,985.5 L521.5,956.1 L525.6,957.5 L529.6,989.5 L533.6,956.1 L538.4,997.5 L542.9,965.5 L547.4,956.1 L552.2,973.5 L557.6,993.5 L563.5,957.5 L568.8,997.5 L573.6,970.8 L578.4,993.5 L584.3,969.5 L589.6,973.5 L595.0,977.5 L599.0,952.1 L603.0,898.7 L607.5,868.8 L612.3,901.4 L616.3,920.1 L623.0,960.1 L629.7,948.1 L636.3,969.5 L641.7,956.1 L647.0,954.8 L651.0,945.4 L655.0,952.1 L660.4,946.8 L664.4,952.1 L672.4,948.1 L683.0,944.1 L693.7,944.6 L699.1,946.8 L707.1,944.1 L715.1,944.6 L719.1,949.5 L725.8,948.9 L730.6,934.8 L735.1,940.1 L740.4,950.8 L747.1,945.4 L753.8,944.1 L760.5,948.1 L766.3,941.4 L773.8,949.5 L781.8,946.8 L789.8,948.1 L796.5,941.4 L800.5,944.1 L811.2,942.0 L817.9,941.4 L820.3,942.2 L822.7,942.4 L825.1,944.7 L827.5,944.5 L829.9,943.5 L832.3,943.0 L834.7,942.7 L837.1,939.8 L839.5,941.8 L841.9,945.4 L844.3,946.4 L846.7,944.3 L849.1,939.8 L851.5,938.4 L853.9,936.5 L856.3,939.5 L858.7,940.6 L861.1,936.7 L863.5,938.6 L865.9,943.8 L868.3,944.9 L870.7,940.4 L873.1,938.8 L875.5,942.1 L877.9,943.4 L880.3,941.0 L882.7,941.2 L885.1,944.3 L887.5,948.7 L889.9,945.3 L892.3,940.7 L894.7,941.8 L897.1,938.8 L899.5,938.9 L901.9,941.8 L904.3,945.9 L906.7,947.9 L909.1,943.0 L911.5,944.8 L913.9,947.8 L916.3,944.1 L918.7,944.4 L921.1,947.3 L923.5,947.5 L925.9,949.4 L928.3,947.6 L930.7,947.8 L933.1,954.7 L935.5,957.1 L937.9,957.5 L940.3,958.3 L942.7,959.2 L945.1,955.3 L947.5,954.3 L949.9,953.2 L952.3,950.7 L954.7,950.8 L957.1,954.2 L959.5,960.5 L961.9,958.0 L964.3,958.4 L966.7,957.2 L969.1,953.8 L971.5,955.0 L973.9,952.3 L976.3,952.5 L978.7,957.8 L981.1,954.7 L983.5,952.4 L985.9,953.6 L988.3,954.8 L990.7,955.5 L993.1,952.9 L995.5,952.6 L997.9,951.3 L1000.3,946.9 L1002.7,948.5 L1005.1,948.0 L1007.5,945.3 L1009.9,948.5 L1012.3,946.9 L1014.7,947.0 L1017.1,951.8 L1019.5,952.4 L1021.9,949.6 L1024.3,945.2 L1026.7,946.0 L1029.1,948.3 L1031.5,946.7 L1033.9,943.6 L1036.3,945.4 L1038.7,947.9 L1041.1,948.8 L1043.5,952.9 L1045.9,953.3 L1048.3,953.3 L1050.7,960.7 L1053.1,963.8 L1055.5,958.2 L1057.9,957.2 L1060.3,961.5 L1062.7,964.7 L1065.1,964.8 L1067.5,962.0 L1069.9,959.7 L1072.3,961.3 L1074.7,962.6 L1077.1,959.8 L1079.5,960.4 L1081.9,962.7 L1084.3,966.5 L1086.7,968.1 L1089.1,969.5 L1091.5,973.9 L1093.9,975.4 L1096.3,973.8 L1098.7,976.9 L1101.1,977.6 L1103.5,976.2 L1105.9,976.4 L1108.3,972.6 L1110.7,974.7 L1113.1,978.8 L1115.5,978.6 L1117.9,978.9 L1120.3,978.1 L1122.7,976.4 L1125.1,977.6 L1127.5,982.8 L1129.9,984.8 L1132.3,980.5 L1134.7,980.3 L1137.1,980.6 L1139.5,978.9 L1141.9,981.7 L1144.3,981.8 L1146.7,977.2 L1149.1,977.0 L1151.5,980.8 L1153.9,983.2 L1156.3,985.8 L1158.7,984.8 L1161.1,984.3 L1163.5,986.9 L1165.9,985.7 L1168.3,987.0 L1170.7,988.7 L1173.1,986.0 L1175.5,987.2 L1177.9,986.5 L1180.3,984.6 L1182.7,986.9 L1185.1,987.6 L1187.5,986.2 L1189.9,985.4 L1192.3,986.5 L1194.7,988.4 L1197.1,987.2 L1199.5,985.4 L1201.9,986.4 L1204.3,983.9 L1206.7,989.4 L1209.1,991.7 L1211.5,983.9 L1213.9,986.7 L1216.3,987.4 L1218.7,985.5 L1221.1,989.8 L1223.5,988.7 L1225.9,987.0 L1228.3,988.0 L1230.7,989.4 L1233.1,988.2 L1235.5,987.4 L1237.9,994.0 L1240.3,1002.1 L1242.7,1005.7 L1245.1,1006.3 L1247.5,1005.8 L1249.9,1000.9 L1252.3,998.8 L1254.7,995.3 L1257.1,993.6 L1259.5,996.9 L1261.9,1000.6 L1264.3,1005.2 L1266.7,1005.1 L1269.1,1004.2 L1271.5,1002.6 L1273.9,1003.1 L1276.3,1006.1 L1278.7,1006.9 L1285.3,1013.4 L1292.0,1000.1 L1296.0,1012.1 L1301.4,1014.8 L1308.0,1005.4 L1314.7,1006.8 L1320.0,999.6 L1324.0,1013.4 L1328.0,1018.8 L1332.0,1005.4 L1340.0,1008.1 L1345.4,1012.1 L1349.9,1025.4 L1356.0,1009.4 L1365.4,1021.4 L1370.8,1020.1 L1373.4,1026.8 L1380.1,1016.1 L1385.4,1029.4 L1389.5,1050.8 L1392.1,1056.1 L1394.8,1050.8 L1398.0,1070.8 L1402.8,1061.5 L1408.1,1066.8 L1411.6,1096.2 L1414.8,1053.5 L1417.5,1049.5 L1420.1,1045.5 L1424.7,1016.1 L1429.5,1026.8 L1432.7,1036.1 L1436.2,1026.8 L1440.2,1032.1 L1444.2,1026.8 L1447.6,1012.1 L1450.8,1026.8 L1454.9,1028.1 L1458.9,1037.5 L1461.5,1049.5 L1466.9,1045.5 L1472.2,1044.1 L1478.1,1030.8 L1481.6,1048.1 L1485.6,1058.8 L1488.2,1053.5 L1491.4,1074.8 L1494.9,1034.8 L1497.6,1040.1 L1500.2,1065.5 L1503.7,1026.8 L1506.9,1016.1 L1510.9,1034.8 L1514.1,1082.8 L1517.6,1058.8 L1520.3,1024.1 L1522.9,1042.8 L1525.1,1021.4 L1526.9,1042.8 L1530.1,1020.1 L1533.6,1064.2 L1537.1,1089.5 L1540.3,1056.1 L1544.3,1073.5 L1547.0,1009.4 L1550.2,1048.1 L1553.6,1048.1 L1557.6,1032.1 L1560.8,1029.4 L1563.8,1006.8 L1567.0,1026.8 L1573.7,1034.8 L1579.0,1026.8 L1582.5,1010.2 L1587.0,1032.1 L1589.7,1033.5 L1593.7,1022.8 L1599.0,1028.1 L1601.7,1041.5 L1604.4,1038.8 L1606.2,1054.8 L1608.9,1029.4 L1611.8,1070.8 L1615.0,984.1 L1617.7,986.7 L1620.4,1032.1 L1623.0,1040.1 L1627.0,979.3 L1630.2,1036.1 L1633.7,1002.8 L1636.4,992.1 L1639.1,1014.8 L1642.3,983.5 L1645.7,1016.1 L1649.2,984.1 L1652.4,1021.4 L1655.1,1000.1 L1657.7,1048.1 L1659.1,1061.5 L1661.7,1053.5 L1663.6,1073.5 L1668.4,1072.2 L1671.1,1088.2 L1673.8,1103.7 L1677.0,1085.5 L1680.4,1061.5 L1684.4,1066.8 L1687.1,1062.8 L1692.4,1072.2 L1696.4,1085.5 L1700.5,1086.8 L1704.5,1096.2 L1708.5,1098.9 L1712.5,1083.4 L1716.5,1088.2 L1719.9,1098.9 L1723.1,1089.5 L1727.1,1093.5 L1731.2,1090.8 L1735.2,1101.5 L1740.5,1105.5 L1745.0,1097.5 L1749.8,1106.9 L1757.8,1101.0 L1763.2,1104.2 L1769.9,1108.7 L1772.3,1105.9 L1774.7,1106.5 L1777.1,1103.6 L1779.5,1103.2 L1781.9,1105.7 L1784.3,1106.7 L1786.7,1104.5 L1789.1,1104.7 L1791.5,1106.2 L1793.9,1108.4 L1796.3,1110.3 L1798.7,1105.0 L1801.1,1101.6 L1803.5,1098.8 L1805.9,1098.5 L1808.3,1099.1 L1810.7,1096.2 L1813.1,1093.9 L1815.5,1096.6 L1817.9,1100.7 L1820.3,1101.8 L1822.7,1106.6 L1825.1,1109.6 L1827.5,1110.0 L1829.9,1109.2 L1832.3,1110.2 L1834.7,1110.9 L1837.1,1109.2 L1839.5,1112.3 L1841.9,1113.1 L1844.3,1109.6 L1846.7,1108.2 L1849.1,1112.1 L1851.5,1115.9 L1853.9,1116.0 L1856.3,1114.4 L1858.7,1119.0 L1861.1,1122.8 L1863.5,1116.2 L1865.9,1109.9 L1868.3,1112.2 L1870.7,1116.7 L1873.1,1120.7 L1875.5,1122.3 L1877.9,1121.5 L1880.3,1120.5 L1882.7,1120.6 L1885.1,1126.6 L1887.5,1126.8 L1889.9,1126.3 L1892.3,1128.9 L1894.7,1128.2 L1897.1,1128.8 L1899.5,1128.3 L1901.9,1129.1 L1904.3,1131.1 L1906.7,1129.1 L1909.1,1129.8 L1911.5,1128.2 L1913.9,1123.6 L1916.3,1122.8 L1918.7,1128.0 L1921.1,1132.6 L1923.5,1136.7 L1925.9,1129.7 L1928.3,1122.9 L1930.7,1123.7 L1933.1,1126.7 L1935.5,1133.3 L1937.9,1120.9 L1940.3,1113.3 L1942.7,1111.5 L1945.1,1110.4 L1947.5,1107.2 L1949.9,1107.3 L1952.3,1110.4 L1954.7,1110.2 L1957.1,1103.6 L1959.5,1092.3 L1961.9,1090.7 L1964.3,1091.5 L1966.7,1091.4 L1969.1,1089.2 L1971.5,1086.8 L1973.9,1082.9 L1976.3,1085.1 L1978.7,1085.3 L1981.1,1080.3 L1983.5,1081.3 L1985.9,1084.8 L1988.3,1087.4 L1990.7,1091.7 L1993.1,1096.1 L1995.5,1092.8 L1997.9,1090.2 L2000.3,1093.2 L2002.7,1097.6 L2005.1,1102.6 L2007.5,1105.1 L2009.9,1106.9 L2012.3,1107.7 L2014.7,1110.4 L2017.1,1111.8 L2019.5,1111.4 L2021.9,1114.0 L2024.3,1118.1 L2026.7,1122.2 L2029.1,1129.2 L2031.5,1135.2 L2033.9,1136.0 L2036.3,1140.4 L2038.7,1146.1 L2041.1,1151.6 L2043.5,1158.8 L2045.9,1161.6 L2048.3,1165.4 L2050.7,1170.4 L2053.1,1173.0 L2055.5,1178.1 L2057.9,1179.9 L2060.3,1177.7 L2062.7,1180.4 L2065.1,1183.9 L2067.5,1184.6 L2069.9,1185.5 L2072.3,1184.2 L2074.7,1180.9 L2077.1,1183.9 L2079.5,1187.3 L2081.9,1186.1 L2084.3,1186.6 L2086.7,1189.4 L2089.1,1189.8 L2091.5,1187.6 L2093.9,1187.3 L2096.3,1186.8 L2098.7,1186.5 L2101.1,1188.3 L2103.5,1189.9 L2105.9,1188.9 L2108.3,1187.5 L2110.7,1186.2 L2113.1,1185.8 L2115.5,1185.3 L2117.9,1186.2 L2120.3,1188.5 L2122.7,1190.7 L2125.1,1190.2 L2127.5,1189.6 L2129.9,1189.5 L2132.3,1189.2 L2134.7,1190.3 L2137.1,1187.1 L2139.5,1184.8 L2141.9,1185.2 L2144.3,1184.7 L2146.7,1186.0 L2149.1,1185.8 L2151.5,1183.3 L2153.9,1178.6 L2156.3,1173.9 L2158.7,1173.2 L2161.1,1170.3 L2163.5,1168.5 L2165.9,1165.5 L2168.3,1162.7 L2170.7,1159.4 L2173.1,1152.1 L2175.5,1147.5" fill="none" stroke="#000" stroke-width="4.0" stroke-linejoin="round" stroke-linecap="round"/>
</g>
<path d="M334.0,2047.5 L335.5,2047.5 L337.0,2047.5 L338.5,2047.4 L340.0,2047.4 L341.5,2047.4 L343.0,2047.4 L344.5,2047.4 L346.0,2047.3 L347.5,2047.3 L349.0,2047.3 L350.5,2047.3 L352.0,2047.3 L353.5,2047.2 L355.0,2047.2 L356.5,2047.2 L358.0,2047.2 L359.5,2047.2 L361.0,2047.1 L362.5,2047.1 L364.0,2047.1 L365.5,2047.1 L367.0,2047.1 L368.5,2047.0 L370.0,2047.0 L371.5,2047.0 L373.0,2047.0 L374.5,2047.0 L376.0,2046.9 L377.5,2046.9 L379.0,2046.9 L380.5,2046.9 L382.0,2046.9 L383.5,2046.8 L385.0,2046.8 L386.5,2046.8 L388.0,2046.8 L389.5,2046.7 L391.0,2046.7 L392.5,2046.7 L394.0,2046.7 L395.5,2046.7 L397.0,2046.6 L398.5,2046.6 L400.0,2046.6 L401.5,2046.6 L403.0,2046.5 L404.5,2046.5 L406.0,2046.5 L407.5,2046.5 L409.0,2046.5 L410.5,2046.4 L412.0,2046.4 L413.5,2046.4 L415.0,2046.4 L416.5,2046.4 L418.0,2046.3 L419.5,2046.3 L421.0,2046.3 L422.5,2046.3 L424.0,2046.2 L425.5,2046.2 L427.0,2046.2 L428.5,2046.2 L430.0,2046.2 L431.5,2046.1 L433.0,2046.1 L434.5,2046.1 L436.0,2046.1 L437.5,2046.0 L439.0,2046.0 L440.5,2046.0 L442.0,2046.0 L443.5,2045.9 L445.0,2045.9 L446.5,2045.9 L448.0,2045.9 L449.5,2045.8 L451.0,2045.8 L452.5,2045.8 L454.0,2045.7 L455.5,2045.7 L457.0,2045.7 L458.5,2045.7 L460.0,2045.6 L461.5,2045.6 L463.0,2045.6 L464.5,2045.6 L466.0,2045.5 L467.5,2045.5 L469.0,2045.5 L470.5,2045.4 L472.0,2045.4 L473.5,2045.4 L475.0,2045.4 L476.5,2045.3 L478.0,2045.3 L479.5,2045.3 L481.0,2045.3 L482.5,2045.2 L484.0,2045.2 L485.5,2045.2 L487.0,2045.1 L488.5,2045.1 L490.0,2045.1 L491.5,2045.1 L493.0,2045.0 L494.5,2045.0 L496.0,2045.0 L497.5,2044.9 L499.0,2044.9 L500.5,2044.9 L502.0,2044.9 L503.5,2044.8 L505.0,2044.8 L506.5,2044.8 L508.0,2044.7 L509.5,2044.7 L511.0,2044.6 L512.5,2044.6 L514.0,2044.6 L515.5,2044.5 L517.0,2044.5 L518.5,2044.4 L520.0,2044.4 L521.5,2044.3 L523.0,2044.3 L524.5,2044.2 L526.0,2044.1 L527.5,2044.1 L529.0,2044.0 L530.5,2044.0 L532.0,2043.9 L533.5,2043.8 L535.0,2043.7 L536.5,2043.7 L538.0,2043.6 L539.5,2043.5 L541.0,2043.5 L542.5,2043.4 L544.0,2043.3 L545.5,2043.2 L547.0,2043.1 L548.5,2043.1 L550.0,2043.0 L551.5,2042.9 L553.0,2042.8 L554.5,2042.7 L556.0,2042.6 L557.5,2042.5 L559.0,2042.4 L560.5,2042.3 L562.0,2042.2 L563.5,2042.2 L565.0,2042.1 L566.5,2042.0 L568.0,2041.9 L569.5,2041.8 L571.0,2041.6 L572.5,2041.5 L574.0,2041.4 L575.5,2041.3 L577.0,2041.2 L578.5,2041.1 L580.0,2041.0 L581.5,2040.9 L583.0,2040.8 L584.5,2040.7 L586.0,2040.6 L587.5,2040.4 L589.0,2040.2 L590.5,2039.9 L592.0,2039.6 L593.5,2039.3 L595.0,2039.0 L596.5,2038.6 L598.0,2038.2 L599.5,2037.8 L601.0,2037.4 L602.5,2036.9 L604.0,2036.5 L605.5,2036.1 L607.0,2035.6 L608.5,2035.2 L610.0,2034.8 L611.5,2034.3 L613.0,2033.8 L614.5,2033.2 L616.0,2032.7 L617.5,2032.1 L619.0,2031.5 L620.5,2030.8 L622.0,2030.1 L623.5,2029.3 L625.0,2028.5 L626.5,2027.7 L628.0,2026.8 L629.5,2025.8 L631.0,2024.8 L632.5,2023.6 L634.0,2022.5 L635.5,2021.2 L637.0,2019.9 L638.5,2018.6 L640.0,2017.2 L641.5,2015.7 L643.0,2014.3 L644.5,2012.7 L646.0,2011.2 L647.5,2009.6 L649.0,2008.0 L650.5,2006.4 L652.0,2004.8 L653.5,2003.1 L655.0,2001.4 L656.5,1999.6 L658.0,1997.9 L659.5,1996.0 L661.0,1994.2 L662.5,1992.4 L664.0,1990.4 L665.5,1988.5 L667.0,1986.5 L668.5,1984.4 L670.0,1982.2 L671.5,1980.1 L673.0,1977.8 L674.5,1975.6 L676.0,1973.2 L677.5,1970.9 L679.0,1968.4 L680.5,1965.7 L682.0,1962.8 L683.5,1959.8 L685.0,1956.6 L686.5,1953.2 L688.0,1949.7 L689.5,1945.8 L691.0,1941.7 L692.5,1937.5 L694.0,1933.2 L695.5,1929.0 L697.0,1925.1 L698.5,1921.6 L700.0,1918.3 L701.5,1915.2 L703.0,1912.7 L704.5,1911.5 L706.0,1911.5 L707.5,1912.7 L709.0,1914.9 L710.5,1918.0 L712.0,1922.0 L713.5,1926.6 L715.0,1931.4 L716.5,1935.9 L718.0,1939.6 L719.5,1942.7 L721.0,1945.2 L722.5,1946.9 L724.0,1947.7 L725.5,1947.6 L727.0,1947.0 L728.5,1945.8 L730.0,1944.1 L731.5,1941.7 L733.0,1938.8 L734.5,1935.7 L736.0,1932.6 L737.5,1929.6 L739.0,1926.8 L740.5,1924.1 L742.0,1921.4 L743.5,1918.7 L745.0,1916.1 L746.5,1913.4 L748.0,1910.8 L749.5,1908.2 L751.0,1905.6 L752.5,1903.0 L754.0,1900.4 L755.5,1897.9 L757.0,1895.3 L758.5,1893.0 L760.0,1890.8 L761.5,1888.7 L763.0,1886.6 L764.5,1884.5 L766.0,1882.3 L767.5,1880.0 L769.0,1877.5 L770.5,1874.7 L772.0,1871.7 L773.5,1868.6 L775.0,1865.3 L776.5,1861.8 L778.0,1858.3 L779.5,1854.7 L781.0,1851.0 L782.5,1847.3 L784.0,1843.5 L785.5,1839.7 L787.0,1835.9 L788.5,1831.9 L790.0,1827.9 L791.5,1823.8 L793.0,1819.5 L794.5,1815.1 L796.0,1810.5 L797.5,1805.9 L799.0,1801.2 L800.5,1796.7 L802.0,1792.3 L803.5,1788.1 L805.0,1784.1 L806.5,1780.1 L808.0,1776.2 L809.5,1772.4 L811.0,1768.6 L812.5,1764.9 L814.0,1761.1 L815.5,1757.8 L817.0,1754.6 L818.5,1751.6 L820.0,1748.3 L821.5,1744.5 L823.0,1739.8 L824.5,1733.8 L826.0,1727.2 L827.5,1720.8 L829.0,1715.1 L830.5,1709.7 L832.0,1704.5 L833.5,1699.7 L835.0,1695.6 L836.5,1692.3 L838.0,1689.5 L839.5,1687.1 L841.0,1684.9 L842.5,1682.8 L844.0,1680.8 L845.5,1679.1 L847.0,1677.7 L848.5,1676.7 L850.0,1676.1 L851.5,1676.0 L853.0,1676.3 L854.5,1676.9 L856.0,1677.7 L857.5,1678.7 L859.0,1679.8 L860.5,1681.2 L862.0,1682.9 L863.5,1685.0 L865.0,1687.2 L866.5,1689.5 L868.0,1691.8 L869.5,1694.1 L871.0,1696.3 L872.5,1698.2 L874.0,1700.0 L875.5,1701.7 L877.0,1703.4 L878.5,1705.4 L880.0,1707.6 L881.5,1710.3 L883.0,1713.4 L884.5,1716.9 L886.0,1720.6 L887.5,1724.6 L889.0,1728.9 L890.5,1733.3 L892.0,1737.8 L893.5,1742.3 L895.0,1746.9 L896.5,1751.4 L898.0,1755.9 L899.5,1760.4 L901.0,1764.8 L902.5,1769.2 L904.0,1773.7 L905.5,1778.1 L907.0,1782.7 L908.5,1787.5 L910.0,1792.9 L911.5,1798.8 L913.0,1804.8 L914.5,1810.7 L916.0,1816.4 L917.5,1821.9 L919.0,1827.4 L920.5,1833.0 L922.0,1838.3 L923.5,1843.3 L925.0,1848.0 L926.5,1852.5 L928.0,1857.0 L929.5,1861.5 L931.0,1865.9 L932.5,1870.4 L934.0,1874.9 L935.5,1879.4 L937.0,1883.9 L938.5,1888.4 L940.0,1892.9 L941.5,1897.3 L943.0,1901.8 L944.5,1906.3 L946.0,1910.8 L947.5,1914.9 L949.0,1918.2 L950.5,1921.0 L952.0,1923.5 L953.5,1926.1 L955.0,1928.5 L956.5,1930.4 L958.0,1931.9 L959.5,1933.3 L961.0,1934.5 L962.5,1934.5 L964.0,1932.1 L965.5,1925.8 L967.0,1916.6 L968.5,1906.4 L970.0,1896.7 L971.5,1887.3 L973.0,1878.4 L974.5,1871.0 L976.0,1869.2 L977.5,1869.9 L979.0,1870.6 L980.5,1874.5 L982.0,1882.2 L983.5,1890.8 L985.0,1898.4 L986.5,1905.3 L988.0,1912.0 L989.5,1918.0 L991.0,1923.6 L992.5,1928.7 L994.0,1933.4 L995.5,1937.6 L997.0,1941.6 L998.5,1945.2 L1000.0,1948.6 L1001.5,1951.6 L1003.0,1954.4 L1004.5,1957.1 L1006.0,1959.6 L1007.5,1962.0 L1009.0,1964.2 L1010.5,1966.1 L1012.0,1968.0 L1013.5,1969.7 L1015.0,1971.4 L1016.5,1973.1 L1018.0,1974.7 L1019.5,1976.2 L1021.0,1977.6 L1022.5,1979.0 L1024.0,1980.4 L1025.5,1981.8 L1027.0,1983.2 L1028.5,1984.5 L1030.0,1985.7 L1031.5,1986.8 L1033.0,1987.8 L1034.5,1988.7 L1036.0,1989.5 L1037.5,1990.4 L1039.0,1991.2 L1040.5,1992.1 L1042.0,1992.9 L1043.5,1993.8 L1045.0,1994.6 L1046.5,1995.5 L1048.0,1996.3 L1049.5,1997.2 L1051.0,1998.0 L1052.5,1998.9 L1054.0,1999.7 L1055.5,2000.5 L1057.0,2001.4 L1058.5,2002.2 L1060.0,2003.1 L1061.5,2003.9 L1063.0,2004.8 L1064.5,2005.6 L1066.0,2006.4 L1067.5,2007.3 L1069.0,2008.1 L1070.5,2008.9 L1072.0,2009.7 L1073.5,2010.4 L1075.0,2011.1 L1076.5,2011.7 L1078.0,2012.3 L1079.5,2012.9 L1081.0,2013.5 L1082.5,2014.0 L1084.0,2014.5 L1085.5,2015.0 L1087.0,2015.5 L1088.5,2015.9 L1090.0,2016.3 L1091.5,2016.6 L1093.0,2017.0 L1094.5,2017.3 L1096.0,2017.6 L1097.5,2017.9 L1099.0,2018.1 L1100.5,2018.4 L1102.0,2018.6 L1103.5,2018.9 L1105.0,2019.2 L1106.5,2019.5 L1108.0,2019.7 L1109.5,2020.1 L1111.0,2020.4 L1112.5,2020.8 L1114.0,2021.2 L1115.5,2021.6 L1117.0,2022.0 L1118.5,2022.5 L1120.0,2023.0 L1121.5,2023.4 L1123.0,2023.8 L1124.5,2024.2 L1126.0,2024.6 L1127.5,2025.0 L1129.0,2025.2 L1130.5,2025.4 L1132.0,2025.5 L1133.5,2025.5 L1135.0,2025.5 L1136.5,2025.4 L1138.0,2025.2 L1139.5,2025.0 L1141.0,2024.8 L1142.5,2024.6 L1144.0,2024.3 L1145.5,2023.9 L1147.0,2023.4 L1148.5,2022.8 L1150.0,2022.3 L1151.5,2021.8 L1153.0,2021.5 L1154.5,2021.3 L1156.0,2021.2 L1157.5,2021.2 L1159.0,2021.4 L1160.5,2021.6 L1162.0,2021.9 L1163.5,2022.3 L1165.0,2022.9 L1166.5,2023.6 L1168.0,2024.4 L1169.5,2025.3 L1171.0,2026.2 L1172.5,2027.0 L1174.0,2027.6 L1175.5,2028.0 L1177.0,2028.4 L1178.5,2028.8 L1180.0,2029.2 L1181.5,2029.5 L1183.0,2029.9 L1184.5,2030.2 L1186.0,2030.6 L1187.5,2030.9 L1189.0,2031.1 L1190.5,2031.4 L1192.0,2031.6 L1193.5,2031.8 L1195.0,2032.0 L1196.5,2032.1 L1198.0,2032.3 L1199.5,2032.4 L1201.0,2032.5 L1202.5,2032.6 L1204.0,2032.8 L1205.5,2032.9 L1207.0,2033.0 L1208.5,2033.1 L1210.0,2033.2 L1211.5,2033.3 L1213.0,2033.5 L1214.5,2033.6 L1216.0,2033.7 L1217.5,2033.8 L1219.0,2034.0 L1220.5,2034.1 L1222.0,2034.2 L1223.5,2034.4 L1225.0,2034.5 L1226.5,2034.7 L1228.0,2034.9 L1229.5,2035.0 L1231.0,2035.2 L1232.5,2035.4 L1234.0,2035.6 L1235.5,2035.8 L1237.0,2035.9 L1238.5,2036.1 L1240.0,2036.3 L1241.5,2036.5 L1243.0,2036.6 L1244.5,2036.8 L1246.0,2036.9 L1247.5,2037.1 L1249.0,2037.2 L1250.5,2037.3 L1252.0,2037.4 L1253.5,2037.5 L1255.0,2037.6 L1256.5,2037.6 L1258.0,2037.6 L1259.5,2037.6 L1261.0,2037.5 L1262.5,2037.5 L1264.0,2037.4 L1265.5,2037.3 L1267.0,2037.3 L1268.5,2037.2 L1270.0,2037.1 L1271.5,2037.1 L1273.0,2037.0 L1274.5,2037.0 L1276.0,2036.9 L1277.5,2036.9 L1279.0,2037.0 L1280.5,2037.0 L1282.0,2037.1 L1283.5,2037.1 L1285.0,2037.2 L1286.5,2037.3 L1288.0,2037.3 L1289.5,2037.4 L1291.0,2037.5 L1292.5,2037.5 L1294.0,2037.6 L1295.5,2037.7 L1297.0,2037.7 L1298.5,2037.8 L1300.0,2037.9 L1301.5,2037.9 L1303.0,2038.0 L1304.5,2038.1 L1306.0,2038.1 L1307.5,2038.2 L1309.0,2038.2 L1310.5,2038.3 L1312.0,2038.4 L1313.5,2038.4 L1315.0,2038.5 L1316.5,2038.5 L1318.0,2038.5 L1319.5,2038.6 L1321.0,2038.6 L1322.5,2038.7 L1324.0,2038.7 L1325.5,2038.8 L1327.0,2038.8 L1328.5,2038.9 L1330.0,2038.9 L1331.5,2039.0 L1333.0,2039.0 L1334.5,2039.1 L1336.0,2039.1 L1337.5,2039.2 L1339.0,2039.2 L1340.5,2039.3 L1342.0,2039.3 L1343.5,2039.4 L1345.0,2039.4 L1346.5,2039.4 L1348.0,2039.5 L1349.5,2039.5 L1351.0,2039.6 L1352.5,2039.6 L1354.0,2039.7 L1355.5,2039.7 L1357.0,2039.7 L1358.5,2039.8 L1360.0,2039.8 L1361.5,2039.9 L1363.0,2039.9 L1364.5,2039.9 L1366.0,2040.0 L1367.5,2040.0 L1369.0,2040.1 L1370.5,2040.1 L1372.0,2040.1 L1373.5,2040.2 L1375.0,2040.2 L1376.5,2040.2 L1378.0,2040.3 L1379.5,2040.3 L1381.0,2040.3 L1382.5,2040.3 L1384.0,2040.4 L1385.5,2040.4 L1387.0,2040.4 L1388.5,2040.5 L1390.0,2040.5 L1391.5,2040.5 L1393.0,2040.5 L1394.5,2040.6 L1396.0,2040.6 L1397.5,2040.6 L1399.0,2040.6 L1400.5,2040.6 L1402.0,2040.6 L1403.5,2040.6 L1405.0,2040.7 L1406.5,2040.7 L1408.0,2040.7 L1409.5,2040.7 L1411.0,2040.7 L1412.5,2040.7 L1414.0,2040.7 L1415.5,2040.7 L1417.0,2040.7 L1418.5,2040.7 L1420.0,2040.7 L1421.5,2040.7 L1423.0,2040.6 L1424.5,2040.6 L1426.0,2040.6 L1427.5,2040.6 L1429.0,2040.6 L1430.5,2040.6 L1432.0,2040.5 L1433.5,2040.5 L1435.0,2040.5 L1436.5,2040.4 L1438.0,2040.4 L1439.5,2040.4 L1441.0,2040.3 L1442.5,2040.3 L1444.0,2040.3 L1445.5,2040.2 L1447.0,2040.2 L1448.5,2040.2 L1450.0,2040.1 L1451.5,2040.1 L1453.0,2040.1 L1454.5,2040.0 L1456.0,2040.0 L1457.5,2039.9 L1459.0,2039.9 L1460.5,2039.9 L1462.0,2039.8 L1463.5,2039.8 L1465.0,2039.7 L1466.5,2039.7 L1468.0,2039.7 L1469.5,2039.6 L1471.0,2039.6 L1472.5,2039.5 L1474.0,2039.5 L1475.5,2039.4 L1477.0,2039.4 L1478.5,2039.4 L1480.0,2039.3 L1481.5,2039.3 L1483.0,2039.2 L1484.5,2039.2 L1486.0,2039.1 L1487.5,2039.1 L1489.0,2039.0 L1490.5,2039.0 L1492.0,2039.0 L1493.5,2038.9 L1495.0,2038.9 L1496.5,2038.8 L1498.0,2038.8 L1499.5,2038.7 L1501.0,2038.7 L1502.5,2038.6 L1504.0,2038.6 L1505.5,2038.5 L1507.0,2038.5 L1508.5,2038.5 L1510.0,2038.4 L1511.5,2038.4 L1513.0,2038.3 L1514.5,2038.3 L1516.0,2038.2 L1517.5,2038.2 L1519.0,2038.1 L1520.5,2038.1 L1522.0,2038.0 L1523.5,2038.0 L1525.0,2038.0 L1526.5,2037.9 L1528.0,2037.9 L1529.5,2037.8 L1531.0,2037.8 L1532.5,2037.7 L1534.0,2037.7 L1535.5,2037.6 L1537.0,2037.6 L1538.5,2037.5 L1540.0,2037.5 L1541.5,2037.5 L1543.0,2037.4 L1544.5,2037.4 L1546.0,2037.3 L1547.5,2037.2 L1549.0,2037.2 L1550.5,2037.1 L1552.0,2037.1 L1553.5,2037.0 L1555.0,2037.0 L1556.5,2036.9 L1558.0,2036.8 L1559.5,2036.8 L1561.0,2036.7 L1562.5,2036.5 L1564.0,2036.3 L1565.5,2036.0 L1567.0,2035.8 L1568.5,2035.5 L1570.0,2035.1 L1571.5,2034.8 L1573.0,2034.5 L1574.5,2034.2 L1576.0,2033.9 L1577.5,2033.6 L1579.0,2033.3 L1580.5,2033.1 L1582.0,2032.9 L1583.5,2032.7 L1585.0,2032.5 L1586.5,2032.4 L1588.0,2032.2 L1589.5,2032.1 L1591.0,2032.0 L1592.5,2031.9 L1594.0,2031.7 L1595.5,2031.6 L1597.0,2031.4 L1598.5,2031.3 L1600.0,2031.1 L1601.5,2030.9 L1603.0,2030.6 L1604.5,2030.4 L1606.0,2030.1 L1607.5,2029.7 L1609.0,2029.3 L1610.5,2028.9 L1612.0,2028.5 L1613.5,2028.0 L1615.0,2027.6 L1616.5,2027.2 L1618.0,2026.8 L1619.5,2026.5 L1621.0,2026.2 L1622.5,2025.9 L1624.0,2025.7 L1625.5,2025.4 L1627.0,2025.1 L1628.5,2024.9 L1630.0,2024.6 L1631.5,2024.2 L1633.0,2023.7 L1634.5,2023.0 L1636.0,2022.3 L1637.5,2021.3 L1639.0,2020.3 L1640.5,2019.3 L1642.0,2018.1 L1643.5,2017.0 L1645.0,2015.8 L1646.5,2014.5 L1648.0,2013.1 L1649.5,2011.5 L1651.0,2009.8 L1652.5,2007.9 L1654.0,2005.8 L1655.5,2003.6 L1657.0,2001.2 L1658.5,1998.6 L1660.0,1995.7 L1661.5,1992.7 L1663.0,1989.5 L1664.5,1986.1 L1666.0,1982.4 L1667.5,1978.6 L1669.0,1974.7 L1670.5,1970.6 L1672.0,1966.5 L1673.5,1962.3 L1675.0,1958.0 L1676.5,1953.5 L1678.0,1948.9 L1679.5,1944.2 L1681.0,1939.8 L1682.5,1935.6 L1684.0,1932.2 L1685.5,1929.4 L1687.0,1927.0 L1688.5,1925.0 L1690.0,1923.9 L1691.5,1923.6 L1693.0,1923.7 L1694.5,1924.7 L1696.0,1927.0 L1697.5,1930.8 L1699.0,1934.7 L1700.5,1938.6 L1702.0,1942.6 L1703.5,1946.6 L1705.0,1950.6 L1706.5,1954.6 L1708.0,1958.7 L1709.5,1962.7 L1711.0,1966.6 L1712.5,1970.0 L1714.0,1972.3 L1715.5,1974.0 L1717.0,1975.4 L1718.5,1976.8 L1720.0,1977.9 L1721.5,1978.6 L1723.0,1978.9 L1724.5,1978.6 L1726.0,1977.5 L1727.5,1975.7 L1729.0,1973.5 L1730.5,1970.9 L1732.0,1967.6 L1733.5,1963.6 L1735.0,1958.9 L1736.5,1953.5 L1738.0,1947.6 L1739.5,1940.9 L1741.0,1933.1 L1742.5,1923.8 L1744.0,1912.7 L1745.5,1901.1 L1747.0,1889.4 L1748.5,1877.7 L1750.0,1866.2 L1751.5,1854.7 L1753.0,1843.3 L1754.5,1832.1 L1756.0,1822.0 L1757.5,1817.4 L1759.0,1816.5 L1760.5,1817.3 L1762.0,1821.3 L1763.5,1830.5 L1765.0,1841.8 L1766.5,1853.3 L1768.0,1864.6 L1769.5,1875.3 L1771.0,1886.0 L1772.5,1896.4 L1774.0,1906.3 L1775.5,1914.2 L1777.0,1920.4 L1778.5,1925.6 L1780.0,1929.9 L1781.5,1933.0 L1783.0,1934.7 L1784.5,1935.0 L1786.0,1934.3 L1787.5,1932.8 L1789.0,1930.4 L1790.5,1926.9 L1792.0,1922.9 L1793.5,1918.4 L1795.0,1913.2 L1796.5,1906.9 L1798.0,1899.8 L1799.5,1892.2 L1801.0,1884.3 L1802.5,1876.2 L1804.0,1867.8 L1805.5,1859.3 L1807.0,1850.5 L1808.5,1841.2 L1810.0,1831.4 L1811.5,1819.6 L1813.0,1806.2 L1814.5,1793.6 L1816.0,1783.3 L1817.5,1773.6 L1819.0,1763.8 L1820.5,1753.5 L1822.0,1742.3 L1823.5,1731.2 L1825.0,1720.9 L1826.5,1712.4 L1828.0,1705.9 L1829.5,1700.3 L1831.0,1694.8 L1832.5,1689.8 L1834.0,1685.8 L1835.5,1684.3 L1837.0,1684.4 L1838.5,1686.2 L1840.0,1691.1 L1841.5,1697.3 L1843.0,1704.1 L1844.5,1711.2 L1846.0,1718.3 L1847.5,1725.5 L1849.0,1733.4 L1850.5,1742.2 L1852.0,1752.1 L1853.5,1762.5 L1855.0,1773.0 L1856.5,1784.0 L1858.0,1795.3 L1859.5,1808.1 L1861.0,1823.5 L1862.5,1835.6 L1864.0,1845.5 L1865.5,1854.5 L1867.0,1863.0 L1868.5,1871.2 L1870.0,1879.5 L1871.5,1888.1 L1873.0,1896.2 L1874.5,1903.5 L1876.0,1909.3 L1877.5,1913.9 L1879.0,1918.4 L1880.5,1922.8 L1882.0,1927.2 L1883.5,1931.6 L1885.0,1936.1 L1886.5,1940.6 L1888.0,1945.1 L1889.5,1949.7 L1891.0,1954.2 L1892.5,1958.7 L1894.0,1963.2 L1895.5,1967.7 L1897.0,1971.9 L1898.5,1976.0 L1902.4,1984.5 L1912.8,1987.1 L1925.8,1998.9 L1938.9,2008.0 L1949.3,2012.4 L1957.1,2011.4 L1964.9,2014.5 L1971.4,2014.0 L1979.3,2022.8 L1988.4,2020.2 L2000.1,2014.5 L2007.9,2017.1 L2017.0,2011.4 L2024.8,2009.8 L2034.0,2017.1 L2045.7,2014.5 L2054.8,2023.6 L2062.6,2024.9 L2069.1,2028.8 L2074.3,2019.7 L2080.3,2013.2" fill="none" stroke="#00ff00" stroke-width="3.9" stroke-linejoin="round" stroke-linecap="round"/>
<path d="M334.0,2045.2 L335.5,2045.2 L337.0,2045.2 L338.5,2045.2 L340.0,2045.1 L341.5,2045.1 L343.0,2045.1 L344.5,2045.1 L346.0,2045.1 L347.5,2045.1 L349.0,2045.1 L350.5,2045.0 L352.0,2045.0 L353.5,2045.0 L355.0,2045.0 L356.5,2045.0 L358.0,2045.0 L359.5,2044.9 L361.0,2044.9 L362.5,2044.9 L364.0,2044.9 L365.5,2044.9 L367.0,2044.9 L368.5,2044.8 L370.0,2044.8 L371.5,2044.8 L373.0,2044.8 L374.5,2044.8 L376.0,2044.8 L377.5,2044.7 L379.0,2044.7 L380.5,2044.7 L382.0,2044.7 L383.5,2044.7 L385.0,2044.6 L386.5,2044.6 L388.0,2044.6 L389.5,2044.6 L391.0,2044.6 L392.5,2044.5 L394.0,2044.5 L395.5,2044.5 L397.0,2044.5 L398.5,2044.5 L400.0,2044.5 L401.5,2044.4 L403.0,2044.4 L404.5,2044.4 L406.0,2044.4 L407.5,2044.4 L409.0,2044.3 L410.5,2044.3 L412.0,2044.3 L413.5,2044.3 L415.0,2044.3 L416.5,2044.2 L418.0,2044.2 L419.5,2044.2 L421.0,2044.2 L422.5,2044.2 L424.0,2044.2 L425.5,2044.1 L427.0,2044.1 L428.5,2044.1 L430.0,2044.1 L431.5,2044.1 L433.0,2044.0 L434.5,2044.0 L436.0,2044.0 L437.5,2044.0 L439.0,2044.0 L440.5,2044.0 L442.0,2043.9 L443.5,2043.9 L445.0,2043.9 L446.5,2043.9 L448.0,2043.9 L449.5,2043.8 L451.0,2043.8 L452.5,2043.8 L454.0,2043.8 L455.5,2043.8 L457.0,2043.7 L458.5,2043.7 L460.0,2043.7 L461.5,2043.7 L463.0,2043.6 L464.5,2043.6 L466.0,2043.6 L467.5,2043.6 L469.0,2043.5 L470.5,2043.5 L472.0,2043.5 L473.5,2043.5 L475.0,2043.4 L476.5,2043.4 L478.0,2043.4 L479.5,2043.3 L481.0,2043.3 L482.5,2043.3 L484.0,2043.2 L485.5,2043.2 L487.0,2043.2 L488.5,2043.1 L490.0,2043.1 L491.5,2043.0 L493.0,2043.0 L494.5,2043.0 L496.0,2042.9 L497.5,2042.9 L499.0,2042.8 L500.5,2042.8 L502.0,2042.7 L503.5,2042.7 L505.0,2042.6 L506.5,2042.5 L508.0,2042.5 L509.5,2042.4 L511.0,2042.3 L512.5,2042.2 L514.0,2042.1 L515.5,2042.0 L517.0,2041.9 L518.5,2041.8 L520.0,2041.7 L521.5,2041.6 L523.0,2041.4 L524.5,2041.3 L526.0,2041.2 L527.5,2041.1 L529.0,2041.0 L530.5,2040.9 L532.0,2040.8 L533.5,2040.6 L535.0,2040.5 L536.5,2040.4 L538.0,2040.3 L539.5,2040.2 L541.0,2040.1 L542.5,2040.0 L544.0,2039.9 L545.5,2039.8 L547.0,2039.7 L548.5,2039.7 L550.0,2039.6 L551.5,2039.5 L553.0,2039.4 L554.5,2039.3 L556.0,2039.3 L557.5,2039.2 L559.0,2039.1 L560.5,2039.1 L562.0,2039.0 L563.5,2038.9 L565.0,2038.8 L566.5,2038.8 L568.0,2038.7 L569.5,2038.6 L571.0,2038.6 L572.5,2038.5 L574.0,2038.4 L575.5,2038.3 L577.0,2038.3 L578.5,2038.2 L580.0,2038.1 L581.5,2038.0 L583.0,2037.9 L584.5,2037.9 L586.0,2037.8 L587.5,2037.6 L589.0,2037.5 L590.5,2037.2 L592.0,2037.0 L593.5,2036.7 L595.0,2036.4 L596.5,2036.0 L598.0,2035.7 L599.5,2035.3 L601.0,2034.9 L602.5,2034.5 L604.0,2034.0 L605.5,2033.6 L607.0,2033.1 L608.5,2032.7 L610.0,2032.1 L611.5,2031.6 L613.0,2031.0 L614.5,2030.3 L616.0,2029.6 L617.5,2028.9 L619.0,2028.1 L620.5,2027.3 L622.0,2026.4 L623.5,2025.5 L625.0,2024.6 L626.5,2023.6 L628.0,2022.6 L629.5,2021.5 L631.0,2020.4 L632.5,2019.2 L634.0,2018.0 L635.5,2016.7 L637.0,2015.4 L638.5,2014.1 L640.0,2012.7 L641.5,2011.3 L643.0,2009.8 L644.5,2008.4 L646.0,2006.9 L647.5,2005.4 L649.0,2003.8 L650.5,2002.3 L652.0,2000.6 L653.5,1999.0 L655.0,1997.2 L656.5,1995.5 L658.0,1993.7 L659.5,1991.8 L661.0,1989.9 L662.5,1988.0 L664.0,1986.1 L665.5,1984.0 L667.0,1981.8 L668.5,1979.5 L670.0,1977.1 L671.5,1974.7 L673.0,1972.2 L674.5,1969.6 L676.0,1967.1 L677.5,1964.4 L679.0,1961.6 L680.5,1958.4 L682.0,1954.9 L683.5,1951.1 L685.0,1947.2 L686.5,1943.1 L688.0,1938.9 L689.5,1933.7 L691.0,1927.1 L692.5,1920.1 L694.0,1913.3 L695.5,1907.7 L697.0,1903.9 L698.5,1901.3 L700.0,1899.4 L701.5,1897.8 L703.0,1896.3 L704.5,1895.2 L706.0,1894.8 L707.5,1895.6 L709.0,1897.4 L710.5,1899.9 L712.0,1902.9 L713.5,1906.2 L715.0,1909.7 L716.5,1913.1 L718.0,1916.1 L719.5,1918.7 L721.0,1921.0 L722.5,1922.8 L724.0,1923.7 L725.5,1923.8 L727.0,1923.1 L728.5,1921.8 L730.0,1920.1 L731.5,1918.1 L733.0,1916.0 L734.5,1914.0 L736.0,1911.7 L737.5,1908.9 L739.0,1905.5 L740.5,1901.5 L742.0,1897.5 L743.5,1893.3 L745.0,1889.2 L746.5,1884.9 L748.0,1880.6 L749.5,1876.3 L751.0,1871.9 L752.5,1867.4 L754.0,1863.0 L755.5,1858.6 L757.0,1854.3 L758.5,1850.1 L760.0,1846.1 L761.5,1842.2 L763.0,1838.4 L764.5,1834.6 L766.0,1830.8 L767.5,1827.0 L769.0,1823.2 L770.5,1819.4 L772.0,1815.6 L773.5,1811.8 L775.0,1808.0 L776.5,1804.0 L778.0,1800.0 L779.5,1795.8 L781.0,1790.4 L782.5,1783.8 L784.0,1776.4 L785.5,1768.9 L787.0,1761.7 L788.5,1755.4 L790.0,1749.4 L791.5,1743.4 L793.0,1737.5 L794.5,1731.5 L796.0,1725.5 L797.5,1719.4 L799.0,1713.0 L800.5,1706.5 L802.0,1699.9 L803.5,1693.1 L805.0,1686.4 L806.5,1679.7 L808.0,1673.2 L809.5,1667.0 L811.0,1660.9 L812.5,1654.9 L814.0,1649.0 L815.5,1643.1 L817.0,1637.2 L818.5,1631.2 L820.0,1625.1 L821.5,1618.9 L823.0,1612.6 L824.5,1606.2 L826.0,1599.8 L827.5,1593.5 L829.0,1587.2 L830.5,1581.0 L832.0,1575.0 L833.5,1569.1 L835.0,1563.4 L836.5,1557.7 L838.0,1552.2 L839.5,1546.7 L841.0,1541.2 L842.5,1535.9 L844.0,1530.8 L845.5,1525.9 L847.0,1521.4 L848.5,1517.3 L850.0,1513.6 L851.5,1510.7 L853.0,1508.5 L854.5,1506.8 L856.0,1505.5 L857.5,1504.4 L859.0,1503.5 L860.5,1502.8 L862.0,1502.5 L863.5,1502.5 L865.0,1502.6 L866.5,1502.8 L868.0,1503.3 L869.5,1504.0 L871.0,1504.8 L872.5,1505.7 L874.0,1506.7 L875.5,1507.8 L877.0,1509.0 L878.5,1510.5 L880.0,1511.9 L881.5,1513.4 L883.0,1514.9 L884.5,1516.5 L886.0,1518.0 L887.5,1519.6 L889.0,1521.2 L890.5,1522.8 L892.0,1524.4 L893.5,1526.1 L895.0,1527.8 L896.5,1529.6 L898.0,1531.4 L899.5,1533.6 L901.0,1536.0 L902.5,1538.6 L904.0,1541.4 L905.5,1544.3 L907.0,1547.4 L908.5,1550.7 L910.0,1554.4 L911.5,1558.6 L913.0,1563.3 L914.5,1568.6 L916.0,1574.1 L917.5,1579.6 L919.0,1585.1 L920.5,1590.7 L922.0,1596.1 L923.5,1601.3 L925.0,1606.6 L926.5,1612.2 L928.0,1618.4 L929.5,1625.3 L931.0,1632.3 L932.5,1639.4 L934.0,1646.4 L935.5,1653.4 L937.0,1660.4 L938.5,1667.4 L940.0,1674.4 L941.5,1681.4 L943.0,1689.6 L944.5,1699.3 L946.0,1709.1 L947.5,1717.9 L949.0,1724.9 L950.5,1731.2 L952.0,1737.1 L953.5,1742.6 L955.0,1748.0 L956.5,1753.0 L958.0,1757.7 L959.5,1761.6 L961.0,1763.7 L962.5,1764.3 L964.0,1763.2 L965.5,1760.2 L967.0,1755.1 L968.5,1749.2 L970.0,1742.9 L971.5,1736.0 L973.0,1728.3 L974.5,1722.1 L976.0,1719.4 L977.5,1718.5 L979.0,1717.8 L980.5,1717.7 L982.0,1719.2 L983.5,1723.2 L985.0,1729.2 L986.5,1736.4 L988.0,1744.3 L989.5,1751.5 L991.0,1757.3 L992.5,1762.4 L994.0,1766.8 L995.5,1770.4 L997.0,1773.7 L998.5,1776.7 L1000.0,1779.2 L1001.5,1781.4 L1003.0,1783.6 L1004.5,1785.7 L1006.0,1787.9 L1007.5,1790.0 L1009.0,1792.2 L1010.5,1794.3 L1012.0,1796.5 L1013.5,1798.8 L1015.0,1801.1 L1016.5,1803.5 L1018.0,1806.6 L1019.5,1810.4 L1021.0,1814.5 L1022.5,1818.8 L1024.0,1823.0 L1025.5,1826.7 L1027.0,1830.2 L1028.5,1833.7 L1030.0,1837.2 L1031.5,1840.5 L1033.0,1843.7 L1034.5,1846.8 L1036.0,1849.7 L1037.5,1852.3 L1039.0,1854.4 L1040.5,1856.3 L1042.0,1857.9 L1043.5,1859.5 L1045.0,1861.0 L1046.5,1862.6 L1048.0,1864.4 L1049.5,1866.6 L1051.0,1869.1 L1052.5,1871.9 L1054.0,1875.0 L1055.5,1878.2 L1057.0,1881.4 L1058.5,1884.5 L1060.0,1887.5 L1061.5,1890.1 L1063.0,1892.6 L1064.5,1895.0 L1066.0,1897.4 L1067.5,1899.8 L1069.0,1902.2 L1070.5,1904.6 L1072.0,1906.9 L1073.5,1909.2 L1075.0,1911.5 L1076.5,1913.8 L1078.0,1916.0 L1079.5,1918.3 L1081.0,1920.5 L1082.5,1922.7 L1084.0,1924.9 L1085.5,1927.1 L1087.0,1929.2 L1088.5,1931.2 L1090.0,1933.0 L1091.5,1934.8 L1093.0,1936.4 L1094.5,1938.0 L1096.0,1939.5 L1097.5,1940.8 L1099.0,1942.0 L1100.5,1943.0 L1102.0,1943.9 L1103.5,1944.6 L1105.0,1945.2 L1106.5,1945.6 L1108.0,1946.0 L1109.5,1946.2 L1111.0,1946.3 L1112.5,1946.3 L1114.0,1946.3 L1115.5,1946.2 L1117.0,1946.1 L1118.5,1946.0 L1120.0,1945.8 L1121.5,1945.7 L1123.0,1945.7 L1124.5,1945.7 L1126.0,1945.8 L1127.5,1946.1 L1129.0,1946.4 L1130.5,1946.9 L1132.0,1947.5 L1133.5,1948.1 L1135.0,1948.7 L1136.5,1949.4 L1138.0,1950.2 L1139.5,1951.1 L1141.0,1952.0 L1142.5,1953.0 L1144.0,1954.0 L1145.5,1955.1 L1147.0,1956.2 L1148.5,1957.4 L1150.0,1958.6 L1151.5,1959.9 L1153.0,1961.2 L1154.5,1962.6 L1156.0,1964.1 L1157.5,1965.7 L1159.0,1967.3 L1160.5,1969.0 L1162.0,1970.8 L1163.5,1972.5 L1165.0,1974.2 L1166.5,1975.9 L1168.0,1977.5 L1169.5,1979.0 L1171.0,1980.5 L1172.5,1981.8 L1174.0,1983.0 L1175.5,1984.2 L1177.0,1985.3 L1178.5,1986.3 L1180.0,1987.3 L1181.5,1988.2 L1183.0,1989.1 L1184.5,1989.9 L1186.0,1990.7 L1187.5,1991.5 L1189.0,1992.3 L1190.5,1993.0 L1192.0,1993.7 L1193.5,1994.5 L1195.0,1995.1 L1196.5,1995.8 L1198.0,1996.5 L1199.5,1997.1 L1201.0,1997.6 L1202.5,1998.2 L1204.0,1998.6 L1205.5,1999.1 L1207.0,1999.5 L1208.5,1999.8 L1210.0,2000.1 L1211.5,2000.4 L1213.0,2000.6 L1214.5,2000.8 L1216.0,2000.9 L1217.5,2001.0 L1219.0,2001.1 L1220.5,2001.2 L1222.0,2001.3 L1223.5,2001.4 L1225.0,2001.5 L1226.5,2001.6 L1228.0,2001.6 L1229.5,2001.7 L1231.0,2001.9 L1232.5,2002.0 L1234.0,2002.1 L1235.5,2002.3 L1237.0,2002.5 L1238.5,2002.8 L1240.0,2003.1 L1241.5,2003.4 L1243.0,2003.8 L1244.5,2004.2 L1246.0,2004.6 L1247.5,2005.1 L1249.0,2005.5 L1250.5,2006.0 L1252.0,2006.5 L1253.5,2007.0 L1255.0,2007.5 L1256.5,2008.1 L1258.0,2008.6 L1259.5,2009.2 L1261.0,2010.0 L1262.5,2010.8 L1264.0,2011.7 L1265.5,2012.5 L1267.0,2013.4 L1268.5,2014.1 L1270.0,2014.7 L1271.5,2015.2 L1273.0,2015.5 L1274.5,2015.7 L1276.0,2015.8 L1277.5,2015.8 L1279.0,2015.8 L1280.5,2015.8 L1282.0,2015.8 L1283.5,2015.9 L1285.0,2016.0 L1286.5,2016.3 L1288.0,2016.6 L1289.5,2017.1 L1291.0,2017.6 L1292.5,2018.1 L1294.0,2018.7 L1295.5,2019.2 L1297.0,2019.7 L1298.5,2020.0 L1300.0,2020.3 L1301.5,2020.5 L1303.0,2020.7 L1304.5,2020.9 L1306.0,2021.0 L1307.5,2021.2 L1309.0,2021.3 L1310.5,2021.5 L1312.0,2021.6 L1313.5,2021.8 L1315.0,2021.9 L1316.5,2022.0 L1318.0,2022.1 L1319.5,2022.3 L1321.0,2022.4 L1322.5,2022.5 L1324.0,2022.6 L1325.5,2022.8 L1327.0,2022.9 L1328.5,2023.0 L1330.0,2023.2 L1331.5,2023.3 L1333.0,2023.5 L1334.5,2023.6 L1336.0,2023.8 L1337.5,2024.0 L1339.0,2024.2 L1340.5,2024.4 L1342.0,2024.6 L1343.5,2024.8 L1345.0,2025.0 L1346.5,2025.3 L1348.0,2025.5 L1349.5,2025.8 L1351.0,2026.0 L1352.5,2026.3 L1354.0,2026.6 L1355.5,2026.8 L1357.0,2027.0 L1358.5,2027.3 L1360.0,2027.5 L1361.5,2027.7 L1363.0,2027.9 L1364.5,2028.1 L1366.0,2028.2 L1367.5,2028.4 L1369.0,2028.5 L1370.5,2028.6 L1372.0,2028.7 L1373.5,2028.8 L1375.0,2028.9 L1376.5,2029.0 L1378.0,2029.0 L1379.5,2029.1 L1381.0,2029.2 L1382.5,2029.2 L1384.0,2029.3 L1385.5,2029.4 L1387.0,2029.4 L1388.5,2029.5 L1390.0,2029.5 L1391.5,2029.6 L1393.0,2029.7 L1394.5,2029.7 L1396.0,2029.8 L1397.5,2029.9 L1399.0,2029.9 L1400.5,2030.0 L1402.0,2030.1 L1403.5,2030.2 L1405.0,2030.3 L1406.5,2030.4 L1408.0,2030.5 L1409.5,2030.6 L1411.0,2030.7 L1412.5,2030.8 L1414.0,2031.0 L1415.5,2031.1 L1417.0,2031.2 L1418.5,2031.3 L1420.0,2031.5 L1421.5,2031.6 L1423.0,2031.7 L1424.5,2031.8 L1426.0,2032.0 L1427.5,2032.1 L1429.0,2032.2 L1430.5,2032.3 L1432.0,2032.4 L1433.5,2032.5 L1435.0,2032.6 L1436.5,2032.7 L1438.0,2032.8 L1439.5,2032.9 L1441.0,2032.9 L1442.5,2033.0 L1444.0,2033.1 L1445.5,2033.2 L1447.0,2033.2 L1448.5,2033.3 L1450.0,2033.4 L1451.5,2033.4 L1453.0,2033.5 L1454.5,2033.6 L1456.0,2033.6 L1457.5,2033.7 L1459.0,2033.7 L1460.5,2033.8 L1462.0,2033.8 L1463.5,2033.9 L1465.0,2033.9 L1466.5,2033.9 L1468.0,2034.0 L1469.5,2034.0 L1471.0,2034.0 L1472.5,2034.1 L1474.0,2034.1 L1475.5,2034.1 L1477.0,2034.2 L1478.5,2034.2 L1480.0,2034.2 L1481.5,2034.2 L1483.0,2034.2 L1484.5,2034.2 L1486.0,2034.2 L1487.5,2034.3 L1489.0,2034.3 L1490.5,2034.3 L1492.0,2034.3 L1493.5,2034.3 L1495.0,2034.3 L1496.5,2034.3 L1498.0,2034.2 L1499.5,2034.2 L1501.0,2034.2 L1502.5,2034.2 L1504.0,2034.2 L1505.5,2034.2 L1507.0,2034.2 L1508.5,2034.2 L1510.0,2034.1 L1511.5,2034.1 L1513.0,2034.1 L1514.5,2034.1 L1516.0,2034.1 L1517.5,2034.0 L1519.0,2034.0 L1520.5,2034.0 L1522.0,2033.9 L1523.5,2033.9 L1525.0,2033.8 L1526.5,2033.8 L1528.0,2033.7 L1529.5,2033.7 L1531.0,2033.6 L1532.5,2033.5 L1534.0,2033.5 L1535.5,2033.4 L1537.0,2033.3 L1538.5,2033.2 L1540.0,2033.1 L1541.5,2033.0 L1543.0,2032.9 L1544.5,2032.8 L1546.0,2032.7 L1547.5,2032.5 L1549.0,2032.3 L1550.5,2032.2 L1552.0,2032.0 L1553.5,2031.8 L1555.0,2031.6 L1556.5,2031.4 L1558.0,2031.2 L1559.5,2031.0 L1561.0,2030.8 L1562.5,2030.6 L1564.0,2030.4 L1565.5,2030.1 L1567.0,2029.9 L1568.5,2029.7 L1570.0,2029.4 L1571.5,2029.1 L1573.0,2028.8 L1574.5,2028.5 L1576.0,2028.2 L1577.5,2027.9 L1579.0,2027.5 L1580.5,2027.2 L1582.0,2026.8 L1583.5,2026.5 L1585.0,2026.2 L1586.5,2025.8 L1588.0,2025.5 L1589.5,2025.1 L1591.0,2024.8 L1592.5,2024.5 L1594.0,2024.2 L1595.5,2024.0 L1597.0,2023.9 L1598.5,2023.9 L1600.0,2023.9 L1601.5,2023.9 L1603.0,2023.9 L1604.5,2023.8 L1606.0,2023.7 L1607.5,2023.4 L1609.0,2022.5 L1610.5,2021.3 L1612.0,2020.4 L1613.5,2020.1 L1615.0,2019.9 L1616.5,2019.9 L1618.0,2020.0 L1619.5,2020.0 L1621.0,2019.8 L1622.5,2019.5 L1624.0,2019.3 L1625.5,2019.0 L1627.0,2018.6 L1628.5,2018.2 L1630.0,2017.5 L1631.5,2016.7 L1633.0,2015.5 L1634.5,2014.1 L1636.0,2012.6 L1637.5,2011.2 L1639.0,2009.7 L1640.5,2008.2 L1642.0,2006.7 L1643.5,2005.2 L1645.0,2003.7 L1646.5,2002.2 L1648.0,2000.7 L1649.5,1999.2 L1651.0,1997.7 L1652.5,1996.2 L1654.0,1994.7 L1655.5,1993.2 L1657.0,1991.7 L1658.5,1990.1 L1660.0,1987.5 L1661.5,1984.2 L1663.0,1980.7 L1664.5,1977.3 L1666.0,1974.6 L1667.5,1972.2 L1669.0,1969.8 L1670.5,1967.5 L1672.0,1965.3 L1673.5,1963.1 L1675.0,1960.9 L1676.5,1958.8 L1678.0,1956.7 L1679.5,1954.7 L1681.0,1952.9 L1682.5,1951.0 L1684.0,1949.3 L1685.5,1947.7 L1687.0,1946.5 L1688.5,1945.9 L1690.0,1946.1 L1691.5,1946.9 L1693.0,1948.3 L1694.5,1950.1 L1696.0,1952.2 L1697.5,1954.7 L1699.0,1957.3 L1700.5,1959.4 L1702.0,1960.8 L1703.5,1961.7 L1705.0,1962.1 L1706.5,1962.0 L1708.0,1961.8 L1709.5,1961.3 L1711.0,1960.5 L1712.5,1959.5 L1714.0,1958.1 L1715.5,1956.4 L1717.0,1954.6 L1718.5,1952.7 L1720.0,1950.7 L1721.5,1948.6 L1723.0,1946.5 L1724.5,1944.2 L1726.0,1941.8 L1727.5,1939.2 L1729.0,1936.4 L1730.5,1933.5 L1732.0,1929.6 L1733.5,1924.5 L1735.0,1918.5 L1736.5,1912.1 L1738.0,1905.1 L1739.5,1897.0 L1741.0,1887.8 L1742.5,1877.7 L1744.0,1866.6 L1745.5,1853.4 L1747.0,1838.0 L1748.5,1820.7 L1750.0,1799.8 L1751.5,1775.7 L1753.0,1753.5 L1754.5,1735.7 L1756.0,1720.9 L1757.5,1709.4 L1759.0,1703.0 L1760.5,1701.6 L1762.0,1704.0 L1763.5,1714.3 L1765.0,1728.9 L1766.5,1745.0 L1768.0,1762.2 L1769.5,1779.4 L1771.0,1795.8 L1772.5,1810.7 L1774.0,1824.3 L1775.5,1835.3 L1777.0,1843.7 L1778.5,1850.0 L1780.0,1854.9 L1781.5,1858.5 L1783.0,1860.9 L1784.5,1862.0 L1786.0,1861.9 L1787.5,1861.1 L1789.0,1859.6 L1790.5,1857.6 L1792.0,1855.1 L1793.5,1852.0 L1795.0,1847.9 L1796.5,1841.9 L1798.0,1833.6 L1799.5,1823.5 L1801.0,1812.0 L1802.5,1799.6 L1804.0,1787.0 L1805.5,1774.0 L1807.0,1760.6 L1808.5,1746.5 L1810.0,1731.6 L1811.5,1716.4 L1813.0,1701.3 L1814.5,1686.7 L1816.0,1673.1 L1817.5,1660.0 L1819.0,1647.2 L1820.5,1634.0 L1822.0,1620.1 L1823.5,1605.0 L1825.0,1589.5 L1826.5,1574.4 L1828.0,1560.5 L1829.5,1547.8 L1831.0,1536.5 L1832.5,1526.6 L1834.0,1518.1 L1835.5,1510.8 L1837.0,1504.6 L1838.5,1499.5 L1840.0,1495.3 L1841.5,1491.9 L1843.0,1489.1 L1844.5,1487.3 L1846.0,1486.4 L1847.5,1486.1 L1849.0,1487.3 L1850.5,1490.5 L1852.0,1497.0 L1853.5,1507.4 L1855.0,1519.9 L1856.5,1533.2 L1858.0,1547.7 L1859.5,1562.6 L1861.0,1577.6 L1862.5,1592.5 L1864.0,1607.4 L1865.5,1622.4 L1867.0,1637.3 L1868.5,1652.3 L1870.0,1667.3 L1871.5,1682.3 L1873.0,1697.4 L1874.5,1712.4 L1876.0,1727.3 L1877.5,1742.3 L1879.0,1757.2 L1880.5,1772.1 L1882.0,1785.9 L1883.5,1797.5 L1885.0,1807.6 L1886.5,1817.2 L1888.0,1826.9 L1889.5,1836.6 L1891.0,1846.3 L1892.5,1855.8 L1894.0,1865.1 L1895.5,1873.9 L1897.0,1882.3 L1898.5,1890.4 L1900.0,1898.4 L1901.5,1906.2 L1903.0,1913.3 L1904.5,1919.1 L1906.0,1923.5 L1907.5,1927.4 L1909.0,1930.9 L1910.5,1934.2 L1912.0,1937.4 L1913.5,1940.5 L1915.0,1943.6 L1916.5,1946.6 L1918.0,1949.4 L1919.5,1952.0 L1921.0,1954.4 L1922.5,1956.7 L1924.0,1958.8 L1928.4,1963.7 L1938.9,1970.2 L1946.7,1978.5 L1951.9,1980.1 L1958.4,1974.1 L1963.6,1971.5 L1970.1,1974.1 L1977.9,1988.4 L1987.1,1989.2 L1993.6,1997.6 L1999.3,2005.4 L2006.6,1997.6 L2014.4,1994.2 L2019.6,1988.4 L2023.5,1975.4 L2027.5,1974.1 L2032.7,1983.2 L2039.2,1996.3 L2044.4,1998.3 L2050.9,1990.5 L2058.7,1995.0 L2065.2,1988.4 L2071.7,1984.5 L2080.3,1991.6" fill="none" stroke="#000" stroke-width="3.9" stroke-linejoin="round" stroke-linecap="round"/>
<line x1="334.0" y1="35.0" x2="334.0" y2="634.0" stroke="#000" stroke-width="8" stroke-linecap="round"/>
<line x1="317.0" y1="619.0" x2="2177.2" y2="619.0" stroke="#000" stroke-width="8" stroke-linecap="round"/>
<line x1="299.8" y1="93.0" x2="334.0" y2="93.0" stroke="#000" stroke-width="7.4" stroke-linecap="round"/>
<line x1="299.8" y1="210.0" x2="334.0" y2="210.0" stroke="#000" stroke-width="7.4" stroke-linecap="round"/>
<line x1="299.8" y1="327.0" x2="334.0" y2="327.0" stroke="#000" stroke-width="7.4" stroke-linecap="round"/>
<line x1="299.8" y1="444.0" x2="334.0" y2="444.0" stroke="#000" stroke-width="7.4" stroke-linecap="round"/>
<line x1="299.8" y1="561.0" x2="334.0" y2="561.0" stroke="#000" stroke-width="7.4" stroke-linecap="round"/>
<line x1="317.0" y1="34.5" x2="334.0" y2="34.5" stroke="#000" stroke-width="7.4" stroke-linecap="round"/>
<line x1="317.0" y1="151.5" x2="334.0" y2="151.5" stroke="#000" stroke-width="7.4" stroke-linecap="round"/>
<line x1="317.0" y1="268.5" x2="334.0" y2="268.5" stroke="#000" stroke-width="7.4" stroke-linecap="round"/>
<line x1="317.0" y1="385.5" x2="334.0" y2="385.5" stroke="#000" stroke-width="7.4" stroke-linecap="round"/>
<line x1="317.0" y1="502.5" x2="334.0" y2="502.5" stroke="#000" stroke-width="7.4" stroke-linecap="round"/>
<line x1="538.3" y1="619.0" x2="538.3" y2="649.0" stroke="#000" stroke-width="8" stroke-linecap="round"/>
<line x1="948.0" y1="619.0" x2="948.0" y2="649.0" stroke="#000" stroke-width="8" stroke-linecap="round"/>
<line x1="1357.7" y1="619.0" x2="1357.7" y2="649.0" stroke="#000" stroke-width="8" stroke-linecap="round"/>
<line x1="1767.5" y1="619.0" x2="1767.5" y2="649.0" stroke="#000" stroke-width="8" stroke-linecap="round"/>
<line x1="2177.2" y1="619.0" x2="2177.2" y2="649.0" stroke="#000" stroke-width="8" stroke-linecap="round"/>
<line x1="743.1" y1="619.0" x2="743.1" y2="634.0" stroke="#000" stroke-width="8" stroke-linecap="round"/>
<line x1="1152.9" y1="619.0" x2="1152.9" y2="634.0" stroke="#000" stroke-width="8" stroke-linecap="round"/>
<line x1="1562.6" y1="619.0" x2="1562.6" y2="634.0" stroke="#000" stroke-width="8" stroke-linecap="round"/>
<line x1="1972.3" y1="619.0" x2="1972.3" y2="634.0" stroke="#000" stroke-width="8" stroke-linecap="round"/>
<line x1="334.0" y1="759.5" x2="334.0" y2="1342.4" stroke="#000" stroke-width="8" stroke-linecap="round"/>
<line x1="334.0" y1="1342.4" x2="2177.0" y2="1342.4" stroke="#000" stroke-width="7.2" stroke-linecap="round"/>
<rect x="330" y="1338.4" width="8" height="8" fill="#000"/>
<line x1="299.8" y1="885.3" x2="334.0" y2="885.3" stroke="#000" stroke-width="7.4" stroke-linecap="round"/>
<line x1="299.8" y1="1136.0" x2="334.0" y2="1136.0" stroke="#000" stroke-width="7.4" stroke-linecap="round"/>
<line x1="317.0" y1="760.0" x2="334.0" y2="760.0" stroke="#000" stroke-width="7.4" stroke-linecap="round"/>
<line x1="317.0" y1="1010.6" x2="334.0" y2="1010.6" stroke="#000" stroke-width="7.4" stroke-linecap="round"/>
<line x1="317.0" y1="1261.3" x2="334.0" y2="1261.3" stroke="#000" stroke-width="7.4" stroke-linecap="round"/>
<line x1="982.0" y1="1343.4" x2="982.0" y2="1372.4" stroke="#000" stroke-width="8" stroke-linecap="round"/>
<line x1="1636.6" y1="1343.4" x2="1636.6" y2="1372.4" stroke="#000" stroke-width="8" stroke-linecap="round"/>
<line x1="654.7" y1="1343.4" x2="654.7" y2="1357.4" stroke="#000" stroke-width="8" stroke-linecap="round"/>
<line x1="1309.3" y1="1343.4" x2="1309.3" y2="1357.4" stroke="#000" stroke-width="8" stroke-linecap="round"/>
<line x1="1963.9" y1="1343.4" x2="1963.9" y2="1357.4" stroke="#000" stroke-width="8" stroke-linecap="round"/>
<line x1="334.0" y1="1481.0" x2="334.0" y2="2064.8" stroke="#000" stroke-width="8" stroke-linecap="round"/>
<line x1="334.0" y1="2064.8" x2="2177.0" y2="2064.8" stroke="#000" stroke-width="8" stroke-linecap="round"/>
<rect x="330" y="2060.8" width="8" height="8" fill="#000"/>
<line x1="299.8" y1="1492.1" x2="334.0" y2="1492.1" stroke="#000" stroke-width="7.4" stroke-linecap="round"/>
<line x1="299.8" y1="1632.7" x2="334.0" y2="1632.7" stroke="#000" stroke-width="7.4" stroke-linecap="round"/>
<line x1="299.8" y1="1773.3" x2="334.0" y2="1773.3" stroke="#000" stroke-width="7.4" stroke-linecap="round"/>
<line x1="299.8" y1="1913.9" x2="334.0" y2="1913.9" stroke="#000" stroke-width="7.4" stroke-linecap="round"/>
<line x1="299.8" y1="2054.5" x2="334.0" y2="2054.5" stroke="#000" stroke-width="7.4" stroke-linecap="round"/>
<line x1="317.0" y1="1562.4" x2="334.0" y2="1562.4" stroke="#000" stroke-width="7.4" stroke-linecap="round"/>
<line x1="317.0" y1="1703.0" x2="334.0" y2="1703.0" stroke="#000" stroke-width="7.4" stroke-linecap="round"/>
<line x1="317.0" y1="1843.6" x2="334.0" y2="1843.6" stroke="#000" stroke-width="7.4" stroke-linecap="round"/>
<line x1="317.0" y1="1984.2" x2="334.0" y2="1984.2" stroke="#000" stroke-width="7.4" stroke-linecap="round"/>
<line x1="462.6" y1="2064.8" x2="462.6" y2="2094.8" stroke="#000" stroke-width="8" stroke-linecap="round"/>
<line x1="678.1" y1="2064.8" x2="678.1" y2="2094.8" stroke="#000" stroke-width="8" stroke-linecap="round"/>
<line x1="893.6" y1="2064.8" x2="893.6" y2="2094.8" stroke="#000" stroke-width="8" stroke-linecap="round"/>
<line x1="1109.1" y1="2064.8" x2="1109.1" y2="2094.8" stroke="#000" stroke-width="8" stroke-linecap="round"/>
<line x1="1324.6" y1="2064.8" x2="1324.6" y2="2094.8" stroke="#000" stroke-width="8" stroke-linecap="round"/>
<line x1="1540.1" y1="2064.8" x2="1540.1" y2="2094.8" stroke="#000" stroke-width="8" stroke-linecap="round"/>
<line x1="1755.6" y1="2064.8" x2="1755.6" y2="2094.8" stroke="#000" stroke-width="8" stroke-linecap="round"/>
<line x1="1971.1" y1="2064.8" x2="1971.1" y2="2094.8" stroke="#000" stroke-width="8" stroke-linecap="round"/>
<line x1="354.9" y1="2064.8" x2="354.9" y2="2079.8" stroke="#000" stroke-width="8" stroke-linecap="round"/>
<line x1="570.4" y1="2064.8" x2="570.4" y2="2079.8" stroke="#000" stroke-width="8" stroke-linecap="round"/>
<line x1="785.8" y1="2064.8" x2="785.8" y2="2079.8" stroke="#000" stroke-width="8" stroke-linecap="round"/>
<line x1="1001.4" y1="2064.8" x2="1001.4" y2="2079.8" stroke="#000" stroke-width="8" stroke-linecap="round"/>
<line x1="1216.8" y1="2064.8" x2="1216.8" y2="2079.8" stroke="#000" stroke-width="8" stroke-linecap="round"/>
<line x1="1432.3" y1="2064.8" x2="1432.3" y2="2079.8" stroke="#000" stroke-width="8" stroke-linecap="round"/>
<line x1="1647.8" y1="2064.8" x2="1647.8" y2="2079.8" stroke="#000" stroke-width="8" stroke-linecap="round"/>
<line x1="1863.3" y1="2064.8" x2="1863.3" y2="2079.8" stroke="#000" stroke-width="8" stroke-linecap="round"/>
<line x1="2078.8" y1="2064.8" x2="2078.8" y2="2079.8" stroke="#000" stroke-width="8" stroke-linecap="round"/>
<line x1="608.1" y1="871.2" x2="608.1" y2="1304.5" stroke="#0000ff" stroke-width="4" stroke-dasharray="14 9.3"/>
<polygon points="595.9,1302.5 620.3000000000001,1302.5 608.1,1343.5" fill="#0000ff"/>
<line x1="1932" y1="1101.7" x2="1932" y2="1305" stroke="#808000" stroke-width="4.2" stroke-dasharray="15 8.1"/>
<polygon points="1920,1303 1944,1303 1932,1345" fill="#808000"/>
<line x1="1993" y1="1051.4" x2="1993" y2="1305" stroke="#808000" stroke-width="4.2" stroke-dasharray="15 8.1"/>
<polygon points="1981,1303 2005,1303 1993,1345" fill="#808000"/>
<line x1="2022.8" y1="1095.7" x2="2022.8" y2="1305" stroke="#808000" stroke-width="4.2" stroke-dasharray="15 8.1"/>
<polygon points="2010.8,1303 2034.8,1303 2022.8,1345" fill="#808000"/>
<line x1="707.2" y1="1895" x2="707.2" y2="2026.1999999999998" stroke="#ff0000" stroke-width="4" stroke-dasharray="14 9.3"/>
<polygon points="695.0,2024.1999999999998 719.4000000000001,2024.1999999999998 707.2,2065.2" fill="#ff0000"/>
<line x1="854.7" y1="1502" x2="854.7" y2="2024.6999999999998" stroke="#ff0000" stroke-width="4" stroke-dasharray="14 9.3"/>
<polygon points="842.5,2022.6999999999998 866.9000000000001,2022.6999999999998 854.7,2063.7" fill="#ff0000"/>
<line x1="976.1" y1="1728.4" x2="976.1" y2="2024.6999999999998" stroke="#ff0000" stroke-width="4" stroke-dasharray="14 9.3"/>
<polygon points="963.9,2022.6999999999998 988.3000000000001,2022.6999999999998 976.1,2063.7" fill="#ff0000"/>
<line x1="1155" y1="1945.6" x2="1155" y2="2025.1999999999998" stroke="#808000" stroke-width="4.2" stroke-dasharray="15 8.1"/>
<polygon points="1142.8,2023.1999999999998 1167.2,2023.1999999999998 1155,2065.2" fill="#808000"/>
<line x1="1689.6" y1="1916.1" x2="1689.6" y2="2026.8000000000002" stroke="#ff0000" stroke-width="4" stroke-dasharray="14 9.3"/>
<polygon points="1677.3999999999999,2024.8000000000002 1701.8,2024.8000000000002 1689.6,2065.8" fill="#ff0000"/>
<line x1="1758.4" y1="1729" x2="1758.4" y2="2025.1999999999998" stroke="#ff0000" stroke-width="4" stroke-dasharray="14 9.3"/>
<polygon points="1746.2,2023.1999999999998 1770.6000000000001,2023.1999999999998 1758.4,2064.2" fill="#ff0000"/>
<line x1="1836" y1="1502.4" x2="1836" y2="2025.1999999999998" stroke="#ff0000" stroke-width="4" stroke-dasharray="14 9.3"/>
<polygon points="1823.8,2023.1999999999998 1848.2,2023.1999999999998 1836,2064.2" fill="#ff0000"/>
<line x1="2029.8" y1="1975.3" x2="2029.8" y2="2026" stroke="#ff0000" stroke-width="4" stroke-dasharray="14 9.3"/>
<polygon points="2017.6,2024 2042.0,2024 2029.8,2065" fill="#ff0000"/>
<text x="182.40" y="111.00" font-size="65" fill="#000" letter-spacing="0.106" >0.8</text>
<text x="182.40" y="1510.70" font-size="65" fill="#000" letter-spacing="0.106" >0.8</text>
<text x="182.40" y="228.00" font-size="65" fill="#000" letter-spacing="0.106" >0.6</text>
<text x="182.40" y="1651.30" font-size="65" fill="#000" letter-spacing="0.106" >0.6</text>
<text x="182.40" y="345.00" font-size="65" fill="#000" letter-spacing="-0.381" >0.4</text>
<text x="182.40" y="1791.90" font-size="65" fill="#000" letter-spacing="-0.381" >0.4</text>
<text x="182.40" y="462.00" font-size="65" fill="#000" letter-spacing="0.350" >0.2</text>
<text x="182.40" y="1932.50" font-size="65" fill="#000" letter-spacing="0.350" >0.2</text>
<text x="182.40" y="579.00" font-size="65" fill="#000" letter-spacing="-0.056" >0.0</text>
<text x="182.40" y="2073.10" font-size="65" fill="#000" letter-spacing="-0.056" >0.0</text>
<text x="145.10" y="903.60" font-size="65" fill="#000" letter-spacing="0.021" >0.04</text>
<text x="145.10" y="1154.30" font-size="65" fill="#000" letter-spacing="0.508" >0.02</text>
<text x="463.97" y="719.20" font-size="65" fill="#000" letter-spacing="0.646" >4000</text>
<text x="872.72" y="719.20" font-size="65" fill="#000" letter-spacing="0.971" >3000</text>
<text x="1281.64" y="719.20" font-size="65" fill="#000" letter-spacing="1.242" >2000</text>
<text x="1689.74" y="719.20" font-size="65" fill="#000" letter-spacing="1.783" >1000</text>
<text x="2158.40" y="719.20" font-size="65" fill="#000" letter-spacing="0.000" >0</text>
<text x="907.46" y="1442.40" font-size="65" fill="#000" letter-spacing="0.671" >3000</text>
<text x="1561.25" y="1442.40" font-size="65" fill="#000" letter-spacing="0.942" >2000</text>
<text x="387.93" y="2164.20" font-size="65" fill="#000" letter-spacing="0.617" >1200</text>
<text x="603.43" y="2164.20" font-size="65" fill="#000" letter-spacing="2.188" >1100</text>
<text x="818.92" y="2164.20" font-size="65" fill="#000" letter-spacing="0.617" >1000</text>
<text x="1053.46" y="2164.20" font-size="65" fill="#000" letter-spacing="0.819" >900</text>
<text x="1269.29" y="2164.20" font-size="65" fill="#000" letter-spacing="0.656" >800</text>
<text x="1484.30" y="2164.20" font-size="65" fill="#000" letter-spacing="0.900" >700</text>
<text x="1699.80" y="2164.20" font-size="65" fill="#000" letter-spacing="0.900" >600</text>
<text x="1915.95" y="2164.20" font-size="65" fill="#000" letter-spacing="0.575" >500</text>
<text x="479.99" y="1239.70" font-size="43" fill="#0000ff" letter-spacing="0.698" >3572</text>
<text x="1936.18" y="1060.20" font-size="43" fill="#808000" letter-spacing="0.869" >1457</text>
<text x="1814.18" y="1252.70" font-size="43" fill="#808000" letter-spacing="0.690" >1550</text>
<text x="2042.58" y="1250.40" font-size="43" fill="#808000" letter-spacing="0.039" >1411</text>
<text x="574.07" y="1957.80" font-size="43" fill="#ff0000" letter-spacing="0.769" >1087</text>
<text x="736.17" y="1949.70" font-size="43" fill="#ff0000" letter-spacing="0.264" >1019</text>
<text x="903.36" y="1949.70" font-size="43" fill="#ff0000" letter-spacing="0.595" >962</text>
<text x="1137.77" y="1948.50" font-size="43" fill="#808000" letter-spacing="0.819" >880</text>
<text x="1654.68" y="1885.80" font-size="43" fill="#ff0000" letter-spacing="1.076" >599</text>
<text x="1565.65" y="1988.60" font-size="43" fill="#ff0000" letter-spacing="1.230" >630</text>
<text x="1832.48" y="1984.50" font-size="43" fill="#ff0000" letter-spacing="0.722" >563</text>
<text x="2006.63" y="1985.20" font-size="43" fill="#ff0000" letter-spacing="0.296" >476</text>
<rect x="637" y="45" width="335.2" height="223.6" fill="#fff" stroke="#000" stroke-width="4"/>
<line x1="657.5" y1="95.3" x2="670.5" y2="95.3" stroke="#0000ff" stroke-width="3" stroke-linecap="round"/>
<line x1="683.6" y1="95.3" x2="696.6" y2="95.3" stroke="#0000ff" stroke-width="3" stroke-linecap="round"/>
<line x1="709.7" y1="95.3" x2="722.7" y2="95.3" stroke="#0000ff" stroke-width="3" stroke-linecap="round"/>
<polygon points="729,84.7 729,105.89999999999999 776.2,95.3" fill="#0000ff"/>
<line x1="659.5" y1="165.4" x2="672.5" y2="165.4" stroke="#ff0000" stroke-width="3" stroke-linecap="round"/>
<line x1="685.6" y1="165.4" x2="698.6" y2="165.4" stroke="#ff0000" stroke-width="3" stroke-linecap="round"/>
<line x1="711.7" y1="165.4" x2="724.7" y2="165.4" stroke="#ff0000" stroke-width="3" stroke-linecap="round"/>
<polygon points="731,154.8 731,176.0 777.3,165.4" fill="#ff0000"/>
<line x1="655.1" y1="234.8" x2="666.9" y2="234.8" stroke="#808000" stroke-width="4.2" stroke-linecap="round"/>
<line x1="681.2" y1="234.8" x2="693.0" y2="234.8" stroke="#808000" stroke-width="4.2" stroke-linecap="round"/>
<line x1="707.3" y1="234.8" x2="719.1" y2="234.8" stroke="#808000" stroke-width="4.2" stroke-linecap="round"/>
<polygon points="726,223.8 726,245.8 773.4,234.8" fill="#808000"/>
<text x="780.61" y="114.60" font-size="42" fill="#000" letter-spacing="3.360" >OH</text>
<text x="847.67" y="95.00" font-size="25" fill="#000" letter-spacing="0.000" >-</text>
<text x="780.24" y="173.30" font-size="42" fill="#000" letter-spacing="2.370" >PO</text>
<text x="846.14" y="189.80" font-size="25" fill="#000" letter-spacing="0.000" >4</text>
<text x="859.38" y="151.40" font-size="25" fill="#000" letter-spacing="1.800" >-3</text>
<text x="780.50" y="245.30" font-size="42" fill="#000" letter-spacing="1.995" >CO</text>
<text x="847.46" y="261.50" font-size="25" fill="#000" letter-spacing="0.000" >3</text>
<text x="861.58" y="224.00" font-size="25" fill="#000" letter-spacing="1.987" >-2</text>
<rect x="1225" y="124.8" width="321.2" height="107.8" fill="#fff" stroke="#000" stroke-width="4"/>
<line x1="1266" y1="160.9" x2="1365" y2="160.9" stroke="#00ff00" stroke-width="4.2" stroke-linecap="round"/>
<line x1="1266" y1="209.8" x2="1365" y2="209.8" stroke="#000" stroke-width="4.2" stroke-linecap="round"/>
<text x="1378.21" y="173.30" font-size="42" fill="#000" letter-spacing="1.295" >800°C</text>
<text x="1377.04" y="223.20" font-size="42" fill="#000" letter-spacing="2.260" >HAcom</text>
<g transform="translate(69.6,0) rotate(-90)">
<text x="-1836.7" y="0" font-size="78.7">A</text>
<text x="-1681.5" y="0" font-size="74">b</text>
<text x="-1535.0" y="0" font-size="74">s</text>
<text x="-1396.5" y="0" font-size="74">o</text>
<text x="-1251.8" y="0" font-size="74">r</text>
<text x="-1124.5" y="0" font-size="74">b</text>
<text x="-980.7" y="0" font-size="74">a</text>
<text x="-835.2" y="0" font-size="74">n</text>
<text x="-688.1" y="0" font-size="74">c</text>
<text x="-549.9" y="0" font-size="74">e</text>
</g>
<text x="1138" y="2304.9" font-size="72" font-family="'Liberation Serif', serif">ν</text>
<text x="1195.58" y="2304.90" font-size="74" fill="#000" letter-spacing="4.963" >(cm</text>
<text x="1335.14" y="2262.40" font-size="43.5" fill="#000" letter-spacing="-4.082" >-1</text>
<text x="1378.64" y="2304.90" font-size="74" fill="#000" letter-spacing="0.000" >)</text>
</svg>
</body></html>
